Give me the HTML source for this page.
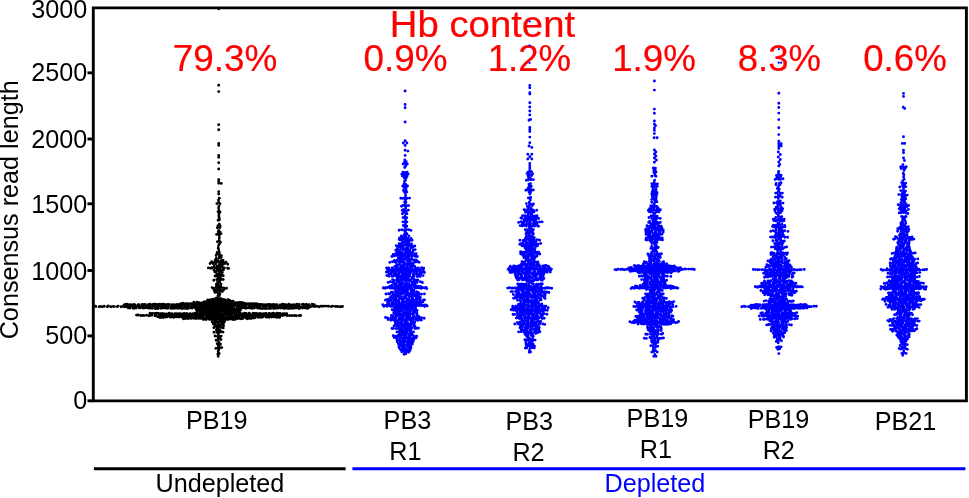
<!DOCTYPE html><html><head><meta charset="utf-8"><style>html,body{margin:0;padding:0;background:#fff;width:969px;height:498px;overflow:hidden}svg{display:block;will-change:transform}text{font-family:"Liberation Sans",sans-serif}</style></head><body>
<svg width="969" height="498" viewBox="0 0 969 498">
<path d="M218.7 8.8h0M218.7 85.2h0M218.7 91.6h0M218.7 124.8h0M218.7 129.8h0M218.7 143.5h0M218.7 145.2h0M218.7 155.5h0M218.7 157.3h0M218.7 162.7h0M218.7 169.0h0M218.7 179.6h0M218.7 181.4h0M218.7 183.2h0M221.3 183.4h0M218.7 191.6h0M218.7 194.0h0M219.3 198.3h0M218.5 200.0h0M218.7 202.4h0M216.9 203.6h0M220.0 203.6h0M219.0 205.9h0M218.6 208.0h0M218.9 210.5h0M218.1 211.8h0M220.0 211.9h0M219.1 213.9h0M218.8 215.7h0M219.2 217.8h0M218.1 220.2h0M219.4 219.8h0M219.3 224.3h0M218.0 225.6h0M220.1 225.7h0M217.3 227.8h0M220.0 227.6h0M218.8 230.4h0M218.3 232.0h0M220.0 231.9h0M216.6 234.4h0M218.5 234.3h0M221.0 233.6h0M219.3 235.7h0M219.3 238.1h0M219.3 240.3h0M217.5 241.8h0M220.4 242.2h0M219.3 244.1h0M218.5 245.6h0M218.2 247.9h0M218.7 249.7h0M217.2 252.4h0M219.3 252.1h0M216.9 253.9h0M219.3 253.8h0M216.1 255.5h0M219.4 256.0h0M221.4 255.8h0M216.1 258.4h0M219.0 257.9h0M221.1 257.5h0M215.1 260.1h0M216.1 259.5h0M218.0 260.4h0M221.5 260.5h0M223.1 260.5h0M211.6 261.6h0M214.2 262.4h0M215.6 262.5h0M217.5 261.5h0M219.3 261.7h0M221.3 262.2h0M223.3 262.5h0M226.0 262.3h0M210.1 263.5h0M213.0 263.6h0M215.0 263.7h0M215.9 263.6h0M219.2 264.4h0M220.8 264.0h0M223.0 264.0h0M224.8 263.5h0M227.7 264.3h0M214.2 266.2h0M217.1 266.3h0M219.4 266.2h0M220.2 266.2h0M222.2 266.2h0M208.4 267.9h0M210.8 268.3h0M211.8 267.7h0M214.6 268.3h0M217.0 268.3h0M218.4 267.6h0M220.2 268.2h0M223.1 268.0h0M224.4 267.9h0M227.6 268.3h0M228.6 268.4h0M213.9 270.1h0M216.9 270.5h0M218.7 269.7h0M221.1 270.1h0M223.5 269.8h0M214.8 271.8h0M216.0 272.2h0M219.3 271.7h0M220.2 271.6h0M222.3 272.5h0M217.3 274.5h0M218.9 273.9h0M221.4 274.3h0M215.1 276.0h0M216.2 275.7h0M218.5 275.6h0M220.7 275.7h0M223.2 275.8h0M218.0 277.8h0M220.5 277.9h0M213.8 280.2h0M216.7 279.6h0M219.4 279.8h0M220.8 279.8h0M223.2 279.5h0M217.6 281.8h0M219.7 281.9h0M216.4 284.3h0M218.0 284.0h0M221.0 284.2h0M216.4 286.0h0M219.0 286.2h0M220.4 285.9h0M212.1 287.6h0M213.5 288.5h0M215.8 287.6h0M217.4 288.3h0M219.5 287.5h0M221.3 287.5h0M223.7 288.0h0M226.5 288.3h0M214.1 290.4h0M215.3 290.2h0M217.6 289.6h0M220.2 289.9h0M221.7 290.4h0M224.0 289.6h0M215.0 292.4h0M217.2 292.0h0M219.6 291.6h0M222.4 291.6h0M218.3 294.1h0M219.9 293.9h0M217.9 296.1h0M219.4 295.6h0M215.9 298.3h0M218.1 298.4h0M220.5 298.4h0M207.8 299.9h0M210.1 300.0h0M211.7 299.8h0M215.2 299.6h0M215.9 299.8h0M218.0 300.1h0M221.4 300.5h0M223.1 299.8h0M224.8 300.1h0M227.8 299.6h0M229.5 300.1h0M208.9 302.2h0M210.7 302.0h0M212.7 301.6h0M215.1 301.9h0M217.3 302.4h0M219.2 302.3h0M220.4 301.7h0M222.9 301.8h0M225.4 302.1h0M227.1 301.8h0M228.6 302.0h0M202.6 303.5h0M205.3 304.3h0M207.5 304.4h0M208.9 304.4h0M211.3 303.6h0M213.5 303.9h0M215.5 304.2h0M216.9 304.0h0M219.3 303.7h0M221.9 303.8h0M224.2 304.3h0M225.4 304.3h0M227.8 303.7h0M229.8 303.7h0M232.3 303.6h0M234.3 304.0h0M209.6 305.9h0M213.0 305.9h0M214.4 306.4h0M216.3 306.3h0M218.4 305.6h0M220.6 306.0h0M223.0 306.1h0M225.6 305.5h0M226.5 306.3h0M205.4 308.5h0M206.7 308.5h0M208.6 308.4h0M211.8 308.1h0M213.2 308.3h0M215.9 308.0h0M218.1 308.5h0M219.8 307.8h0M221.3 307.9h0M224.0 307.6h0M225.9 307.7h0M227.9 308.4h0M230.2 308.0h0M232.0 308.5h0M210.8 310.1h0M211.8 310.1h0M214.4 310.5h0M216.3 309.6h0M218.3 309.8h0M220.6 309.6h0M223.1 310.2h0M224.8 309.8h0M227.2 309.9h0M206.9 311.6h0M209.6 312.1h0M211.4 311.9h0M212.7 311.9h0M215.2 311.9h0M218.3 311.8h0M220.1 312.3h0M221.3 311.8h0M224.6 312.4h0M225.4 312.2h0M227.6 312.2h0M230.3 312.3h0M211.9 314.4h0M214.7 313.5h0M216.1 314.3h0M218.1 313.6h0M220.7 313.5h0M222.4 314.4h0M225.7 313.9h0M215.1 315.8h0M216.0 315.5h0M218.6 316.3h0M221.4 316.0h0M223.2 315.6h0M205.9 318.2h0M207.9 317.9h0M210.5 317.6h0M212.1 317.5h0M214.8 317.9h0M217.3 317.9h0M218.6 317.8h0M220.7 317.8h0M223.1 317.9h0M225.7 318.0h0M226.9 318.2h0M229.5 318.1h0M230.8 318.2h0M213.1 319.8h0M215.0 320.3h0M216.4 319.5h0M219.2 320.0h0M221.4 320.3h0M222.7 320.2h0M224.6 319.6h0M212.2 322.1h0M214.8 322.4h0M216.6 322.0h0M218.6 321.9h0M221.3 321.9h0M223.5 322.5h0M224.7 321.5h0M213.3 324.1h0M215.3 324.2h0M218.3 324.0h0M220.3 324.4h0M221.2 324.5h0M223.5 323.8h0M215.0 325.6h0M217.1 326.3h0M218.3 326.3h0M220.3 326.4h0M223.5 325.9h0M213.8 327.7h0M216.7 327.5h0M218.2 328.3h0M220.8 327.6h0M223.2 327.9h0M216.4 330.0h0M218.4 330.0h0M220.1 330.4h0M214.0 332.2h0M216.9 332.3h0M219.0 332.3h0M221.3 331.7h0M223.0 332.1h0M218.4 334.2h0M215.1 336.0h0M217.6 336.4h0M219.1 336.4h0M221.2 336.1h0M218.3 338.0h0M219.6 338.0h0M216.1 340.3h0M218.1 340.5h0M221.0 339.5h0M219.2 342.4h0M217.2 343.7h0M219.0 343.9h0M220.5 344.2h0M218.3 346.0h0M219.3 345.7h0M215.9 348.4h0M217.6 348.3h0M219.4 348.3h0M221.8 347.6h0M218.7 350.1h0M218.2 351.8h0M217.8 354.2h0M219.2 353.5h0M218.2 356.3h0M95.4 306.1h0M96.0 306.6h0M99.3 306.8h0M100.2 306.4h0M102.3 306.8h0M104.3 306.2h0M107.3 306.7h0M108.2 306.0h0M110.9 306.7h0M113.3 306.4h0M114.2 306.6h0M117.1 306.6h0M118.1 306.1h0M121.1 306.7h0M123.3 306.5h0M125.0 306.7h0M126.3 306.6h0M128.7 306.1h0M130.4 306.6h0M132.5 306.4h0M134.8 306.2h0M136.2 306.2h0M138.9 306.6h0M140.9 306.7h0M142.2 306.0h0M144.7 306.4h0M146.3 306.5h0M148.1 306.2h0M150.0 306.2h0M152.9 306.0h0M154.8 306.2h0M156.3 306.3h0M158.4 306.6h0M160.6 306.4h0M163.2 306.2h0M165.2 306.4h0M166.5 306.7h0M168.1 306.7h0M171.0 306.8h0M173.3 306.1h0M174.1 306.6h0M176.2 306.2h0M178.7 306.6h0M180.9 306.8h0M182.0 306.1h0M184.8 306.6h0M186.0 306.7h0M188.2 306.5h0M190.9 306.7h0M192.0 306.0h0M194.1 306.5h0M196.0 306.3h0M198.5 306.5h0M200.8 306.4h0M203.3 306.3h0M205.4 306.5h0M206.7 306.6h0M208.3 306.4h0M210.9 306.2h0M213.1 306.3h0M214.4 306.5h0M217.3 306.5h0M218.4 306.2h0M221.0 306.5h0M223.4 306.2h0M224.2 306.3h0M226.8 306.2h0M229.2 306.4h0M230.9 306.7h0M232.3 306.4h0M234.5 306.1h0M237.2 306.3h0M239.3 306.2h0M241.0 306.7h0M242.8 306.5h0M244.5 306.6h0M246.0 306.8h0M249.1 306.5h0M251.4 306.1h0M253.3 306.1h0M254.4 306.6h0M256.1 306.3h0M258.4 306.1h0M260.3 306.8h0M263.3 306.6h0M264.9 306.6h0M266.6 306.1h0M269.4 306.6h0M271.2 306.5h0M272.5 306.3h0M274.9 306.3h0M277.3 306.0h0M278.7 306.5h0M280.5 306.6h0M283.0 306.2h0M284.9 306.2h0M286.6 306.7h0M289.3 306.6h0M290.2 306.5h0M292.6 306.1h0M295.0 306.3h0M296.8 306.4h0M298.7 306.4h0M300.1 306.7h0M303.1 306.4h0M304.3 306.2h0M307.0 306.0h0M309.0 306.5h0M310.6 306.8h0M313.2 306.3h0M314.7 306.6h0M316.9 306.3h0M319.1 306.7h0M320.8 306.1h0M322.4 306.2h0M324.2 306.1h0M326.4 306.1h0M328.6 306.3h0M331.1 306.6h0M332.7 306.1h0M335.4 306.4h0M337.0 306.5h0M338.9 306.6h0M340.7 306.7h0M342.4 306.5h0M124.1 304.9h0M125.1 304.4h0M127.1 304.2h0M129.4 304.8h0M131.6 304.7h0M134.1 304.5h0M135.2 304.9h0M138.3 304.7h0M139.1 304.8h0M142.2 304.5h0M143.7 304.6h0M145.2 304.5h0M148.1 304.7h0M149.9 304.3h0M152.3 304.6h0M153.7 304.2h0M155.4 304.2h0M157.7 304.5h0M159.7 304.3h0M162.2 304.3h0M163.8 304.2h0M166.0 304.7h0M167.8 304.4h0M169.2 304.5h0M172.0 304.7h0M174.0 304.6h0M176.4 304.6h0M177.3 304.4h0M179.9 304.2h0M181.9 304.7h0M183.6 304.5h0M185.1 304.3h0M187.6 304.8h0M189.4 304.3h0M192.4 304.2h0M194.2 304.4h0M196.2 304.5h0M198.0 304.3h0M200.1 305.0h0M201.9 304.8h0M203.3 304.7h0M205.5 304.7h0M207.3 304.2h0M209.9 304.4h0M211.5 304.3h0M214.0 304.2h0M215.5 304.7h0M218.0 304.5h0M220.3 304.2h0M222.0 304.6h0M223.9 304.4h0M225.1 304.4h0M227.7 304.6h0M229.3 304.9h0M231.4 304.5h0M233.9 304.6h0M235.7 304.8h0M238.3 304.5h0M239.6 304.4h0M241.7 304.9h0M244.4 304.3h0M245.5 304.4h0M247.2 304.3h0M249.5 304.9h0M251.6 304.6h0M253.8 304.4h0M255.6 304.4h0M257.9 304.3h0M259.7 304.4h0M261.5 304.5h0M263.5 304.8h0M265.7 304.6h0M268.1 304.5h0M269.3 304.4h0M271.2 304.7h0M273.3 304.4h0M275.5 304.6h0M277.1 304.8h0M280.1 305.0h0M282.4 304.3h0M283.9 304.4h0M285.6 304.6h0M287.9 304.8h0M289.0 304.3h0M291.2 304.9h0M293.6 304.6h0M295.9 304.8h0M297.0 304.3h0M299.2 304.4h0M302.3 304.4h0M303.2 304.3h0M305.9 304.5h0M307.0 304.6h0M309.2 304.8h0M312.3 304.3h0M314.3 304.8h0M128.2 307.9h0M130.1 308.0h0M133.2 308.2h0M134.7 308.0h0M136.3 308.1h0M139.2 307.8h0M140.1 307.9h0M142.9 308.0h0M144.6 307.9h0M146.6 307.8h0M149.0 308.2h0M151.2 308.0h0M152.3 308.3h0M155.1 308.5h0M156.4 308.4h0M158.0 308.5h0M160.8 308.3h0M162.2 307.9h0M164.2 308.0h0M166.8 308.3h0M168.3 308.1h0M171.1 308.4h0M173.1 308.3h0M174.8 308.2h0M177.4 308.3h0M179.0 308.0h0M180.9 308.2h0M182.4 308.5h0M184.2 308.2h0M186.3 308.4h0M188.0 308.5h0M190.7 308.1h0M192.5 308.1h0M195.4 308.1h0M197.3 308.1h0M198.6 308.2h0M200.4 308.3h0M202.4 308.1h0M204.4 308.0h0M207.1 308.2h0M208.1 308.3h0M210.8 308.3h0M212.3 308.4h0M214.7 308.2h0M216.9 308.3h0M219.3 307.9h0M220.5 307.8h0M222.8 308.3h0M224.3 308.4h0M226.4 307.9h0M229.1 308.1h0M230.4 308.6h0M232.0 307.8h0M234.4 308.6h0M237.1 308.3h0M239.0 308.0h0M240.9 307.9h0M242.6 307.9h0M245.4 308.3h0M246.8 308.0h0M249.1 307.9h0M250.2 307.8h0M252.0 308.4h0M254.4 308.0h0M257.4 308.1h0M258.6 307.9h0M260.1 308.4h0M262.2 308.6h0M264.6 308.4h0M266.5 308.5h0M269.1 308.6h0M270.5 308.4h0M272.1 307.9h0M274.0 308.5h0M276.3 308.3h0M278.5 308.0h0M280.9 308.0h0M282.0 307.9h0M284.4 308.5h0M286.3 308.1h0M288.2 308.6h0M290.3 308.3h0M292.5 308.4h0M294.7 308.1h0M296.4 307.9h0M298.9 308.6h0M300.0 308.1h0M302.6 308.0h0M305.1 307.9h0M307.3 308.4h0M308.6 307.8h0M181.1 303.7h0M182.9 303.2h0M184.0 303.6h0M186.5 303.5h0M189.1 303.7h0M191.4 303.6h0M193.1 303.3h0M194.2 303.8h0M196.3 303.6h0M198.6 303.5h0M201.3 303.8h0M202.1 303.3h0M204.7 303.7h0M207.0 303.3h0M208.1 303.5h0M210.7 303.6h0M212.6 303.4h0M214.7 303.7h0M217.0 304.0h0M218.4 303.7h0M220.6 303.8h0M223.2 303.8h0M224.4 303.9h0M226.2 303.7h0M228.9 303.3h0M230.7 303.4h0M232.8 303.9h0M235.4 303.9h0M236.5 303.5h0M238.7 303.3h0M241.2 303.9h0M243.0 303.8h0M244.7 303.3h0M247.3 303.8h0M248.9 303.7h0M250.8 303.8h0M252.7 303.8h0M254.2 303.8h0M256.2 303.8h0M194.0 302.2h0M197.0 302.2h0M198.8 302.8h0M201.2 302.9h0M202.1 302.7h0M204.2 302.2h0M206.2 302.4h0M208.8 302.5h0M210.4 302.8h0M212.7 302.4h0M214.6 302.6h0M216.6 302.6h0M219.1 302.8h0M220.0 302.9h0M222.7 302.9h0M224.8 302.6h0M227.0 302.7h0M229.2 302.2h0M230.9 303.0h0M232.1 302.6h0M235.0 302.7h0M237.1 302.7h0M239.2 302.5h0M240.1 302.5h0M242.2 302.4h0M204.4 301.6h0M207.0 301.4h0M208.5 301.8h0M211.1 301.6h0M212.4 301.4h0M215.2 301.4h0M216.1 301.9h0M219.2 301.9h0M220.9 301.3h0M222.6 301.6h0M224.6 301.6h0M227.3 301.6h0M228.0 301.4h0M230.6 301.3h0M233.0 301.1h0M211.7 300.4h0M214.3 300.7h0M216.1 300.2h0M218.0 300.2h0M220.2 300.2h0M222.2 300.5h0M223.5 300.1h0M225.0 300.0h0M213.1 299.1h0M215.9 299.2h0M217.7 299.6h0M219.1 299.4h0M221.1 298.9h0M223.3 299.5h0M136.5 315.1h0M138.0 315.0h0M140.6 315.5h0M142.6 315.4h0M144.0 315.6h0M146.6 315.2h0M149.0 315.7h0M150.6 315.0h0M152.0 315.3h0M155.1 315.8h0M156.0 315.3h0M159.2 315.3h0M160.4 315.6h0M162.4 315.4h0M164.9 315.2h0M166.1 315.4h0M168.3 315.6h0M170.6 315.6h0M173.4 315.0h0M174.5 315.2h0M176.2 315.5h0M178.2 315.2h0M180.5 315.1h0M182.3 315.4h0M184.9 315.3h0M187.1 315.1h0M188.9 315.6h0M191.2 315.5h0M192.4 315.4h0M195.2 315.1h0M197.1 315.8h0M198.6 315.6h0M200.8 315.1h0M202.6 315.4h0M204.3 315.1h0M206.9 315.7h0M208.2 315.7h0M210.8 315.1h0M212.0 315.8h0M214.6 315.8h0M217.1 315.3h0M218.8 315.7h0M221.2 315.3h0M223.1 315.6h0M224.1 315.7h0M226.9 315.1h0M229.4 315.1h0M230.8 315.1h0M232.1 315.7h0M235.2 315.2h0M237.0 315.3h0M238.7 315.7h0M240.7 315.3h0M242.0 315.6h0M244.2 315.1h0M246.9 315.3h0M248.9 315.4h0M251.0 315.2h0M252.2 315.7h0M254.7 315.1h0M256.5 315.7h0M258.3 315.3h0M260.4 315.3h0M262.0 315.1h0M264.4 315.5h0M267.0 315.1h0M268.2 315.6h0M270.4 315.1h0M272.1 315.4h0M275.2 315.0h0M276.1 315.0h0M278.2 315.2h0M280.7 315.6h0M282.4 315.5h0M284.4 315.1h0M286.9 315.6h0M289.3 315.6h0M291.1 315.6h0M292.4 315.6h0M294.7 315.5h0M296.3 315.8h0M299.0 315.6h0M300.6 315.5h0M150.0 313.3h0M152.4 313.4h0M154.8 313.5h0M156.7 313.3h0M158.4 313.4h0M160.5 313.6h0M162.5 313.5h0M164.7 313.9h0M166.8 313.9h0M169.2 313.3h0M170.2 313.8h0M172.1 313.8h0M175.0 313.7h0M176.8 313.8h0M179.0 313.8h0M180.3 313.6h0M182.6 313.9h0M184.1 313.4h0M186.6 313.4h0M189.2 313.9h0M190.2 313.7h0M192.9 313.7h0M195.2 313.2h0M196.6 313.7h0M198.2 313.7h0M200.0 313.8h0M202.6 313.5h0M204.3 313.8h0M206.7 313.3h0M208.5 313.3h0M211.0 313.8h0M213.1 313.7h0M214.5 313.6h0M217.2 313.3h0M219.3 314.0h0M220.4 313.7h0M223.4 313.9h0M224.7 313.7h0M226.6 313.8h0M228.7 313.3h0M230.9 313.6h0M232.0 313.7h0M234.5 313.6h0M236.1 313.8h0M239.1 313.2h0M240.3 313.2h0M243.1 313.8h0M244.9 313.2h0M246.3 313.5h0M249.2 313.2h0M250.3 313.9h0M253.2 313.3h0M254.8 313.5h0M256.3 313.4h0M258.4 313.7h0M260.5 313.5h0M263.3 313.6h0M264.9 313.8h0M266.2 313.4h0M269.1 313.4h0M271.3 313.8h0M273.2 313.3h0M274.4 313.7h0M277.0 313.2h0M278.9 313.5h0M280.2 313.4h0M283.0 313.7h0M284.9 313.7h0M286.8 313.6h0M157.8 316.8h0M160.0 317.5h0M161.1 317.4h0M163.4 317.5h0M165.9 317.1h0M167.1 316.9h0M170.1 317.0h0M172.0 316.9h0M173.8 317.4h0M176.2 316.9h0M178.2 316.8h0M179.5 316.9h0M181.9 317.1h0M183.9 317.1h0M185.9 317.4h0M187.7 316.8h0M189.3 317.2h0M191.8 317.6h0M193.1 317.5h0M195.1 317.0h0M198.3 317.3h0M199.1 316.9h0M201.8 316.9h0M203.2 317.1h0M206.3 317.3h0M207.2 317.0h0M209.7 316.9h0M211.3 317.6h0M213.7 317.4h0M216.0 317.5h0M217.1 317.2h0M220.2 317.3h0M221.3 317.2h0M224.1 316.8h0M225.4 317.4h0M227.4 317.2h0M229.7 316.9h0M231.8 317.0h0M233.7 317.0h0M235.6 317.3h0M237.9 316.9h0M239.1 317.3h0M242.2 317.0h0M243.0 317.0h0M245.1 317.0h0M247.3 316.9h0M249.6 317.3h0M252.0 317.6h0M253.4 317.3h0M255.4 317.6h0M258.4 317.4h0M259.9 316.9h0M261.2 317.4h0M263.1 316.9h0M266.2 317.1h0M267.0 317.1h0M269.2 317.2h0M271.5 317.0h0M273.7 316.9h0M276.3 317.2h0M278.4 317.3h0M279.7 317.3h0M183.5 318.7h0M185.7 318.5h0M188.0 318.5h0M189.7 318.1h0M191.3 318.4h0M194.0 318.2h0M195.9 318.5h0M198.1 318.2h0M200.0 318.4h0M201.3 318.2h0M204.3 318.6h0M205.0 318.7h0M208.3 318.2h0M210.2 318.4h0M211.1 318.3h0M213.7 318.6h0M215.3 318.1h0M217.3 318.1h0M220.0 318.7h0M221.8 318.4h0M223.2 318.2h0M225.7 318.7h0M228.4 318.3h0M229.5 318.5h0M232.2 318.2h0M233.3 318.1h0M236.4 318.2h0M237.4 318.8h0M240.0 318.6h0M241.5 318.8h0M243.0 318.4h0M246.4 318.2h0M247.5 318.7h0M249.8 318.4h0M251.3 318.4h0M253.8 318.1h0M203.3 319.4h0M204.0 319.2h0M206.2 319.5h0M209.2 319.3h0M211.0 319.6h0M212.9 319.6h0M214.9 319.6h0M216.6 319.4h0M218.9 319.2h0M220.1 319.2h0M222.7 319.4h0M225.0 319.8h0M227.2 319.4h0M228.5 319.4h0M230.9 319.1h0M233.0 319.6h0M234.9 319.6h0M196.4 309.9h0M198.8 310.0h0M201.2 310.0h0M202.2 309.7h0M204.0 309.8h0M206.6 310.0h0M208.4 310.2h0M210.6 310.1h0M213.2 310.1h0M215.3 309.9h0M216.9 309.7h0M218.9 310.2h0M221.2 309.6h0M222.8 310.0h0M225.0 310.4h0M227.1 309.7h0M228.5 309.6h0M231.0 309.9h0M232.8 310.1h0M235.1 310.1h0M236.8 310.1h0M238.3 310.3h0M240.4 310.3h0M197.2 311.6h0M200.0 311.6h0M202.0 312.0h0M203.5 311.7h0M205.7 312.1h0M207.9 312.0h0M209.1 311.9h0M212.2 311.7h0M213.9 312.0h0M215.7 312.2h0M218.0 311.5h0M219.7 311.5h0M221.4 311.5h0M223.8 311.5h0M225.9 312.2h0M227.4 312.1h0M229.2 311.4h0M232.0 311.5h0M233.9 312.2h0M235.1 312.2h0M237.2 312.1h0M239.4 312.0h0" stroke="#000" stroke-width="2.9" stroke-linecap="round" fill="none"/>
<path d="M405.1 91.0h0M405.1 104.5h0M405.1 107.7h0M405.1 122.0h0M405.1 140.7h0M403.3 143.0h0M406.9 143.0h0M405.1 145.4h0M405.1 150.2h0M407.9 151.1h0M405.1 155.4h0M404.8 160.0h0M404.6 161.9h0M406.2 161.6h0M403.1 164.0h0M405.7 163.9h0M407.3 164.0h0M405.7 166.1h0M404.7 167.5h0M402.9 172.3h0M405.3 172.4h0M407.2 172.2h0M401.8 174.2h0M403.8 173.7h0M405.8 174.1h0M408.2 174.1h0M402.5 176.1h0M404.9 175.7h0M407.0 176.3h0M404.3 177.9h0M406.3 177.7h0M405.5 180.3h0M404.5 181.5h0M404.2 184.0h0M405.8 184.4h0M402.8 185.9h0M405.1 185.8h0M407.5 186.0h0M403.9 187.5h0M406.2 187.6h0M403.4 190.4h0M406.0 189.8h0M404.5 192.0h0M406.8 191.9h0M405.2 193.5h0M405.6 195.5h0M400.8 198.3h0M402.8 198.4h0M404.8 197.7h0M407.3 198.3h0M409.7 198.1h0M405.4 200.0h0M404.6 201.9h0M405.9 202.0h0M405.3 204.0h0M401.5 206.2h0M403.3 205.5h0M405.4 205.9h0M406.5 205.7h0M408.7 205.6h0M405.7 207.9h0M402.2 210.4h0M403.4 209.7h0M405.6 210.4h0M408.4 210.1h0M403.8 212.2h0M406.2 211.6h0M402.4 213.7h0M405.8 213.8h0M406.9 213.8h0M404.8 216.4h0M403.0 217.6h0M405.0 218.3h0M406.7 217.8h0M405.4 219.8h0M402.9 221.9h0M405.1 221.9h0M406.9 221.9h0M405.4 224.0h0M403.3 225.5h0M405.0 226.0h0M406.8 226.3h0M405.0 227.5h0M399.1 230.2h0M401.8 229.7h0M404.2 230.4h0M406.6 229.6h0M408.9 229.8h0M411.0 230.4h0M405.4 231.8h0M404.6 233.9h0M406.8 233.7h0M401.4 235.9h0M404.0 236.0h0M405.8 236.0h0M408.9 236.0h0M399.6 237.9h0M402.1 237.7h0M404.5 238.2h0M406.1 238.4h0M408.2 238.2h0M411.1 238.4h0M399.2 239.6h0M400.3 240.0h0M402.6 240.3h0M405.2 239.8h0M407.1 240.2h0M409.7 240.5h0M412.1 240.3h0M402.5 242.1h0M404.2 242.1h0M406.5 241.8h0M408.4 242.3h0M399.1 243.6h0M401.1 243.8h0M402.8 244.5h0M405.8 244.3h0M407.1 243.9h0M410.0 243.9h0M411.5 243.9h0M396.3 245.7h0M398.3 246.2h0M400.1 245.7h0M402.5 246.2h0M403.7 245.7h0M406.4 245.6h0M408.4 245.9h0M410.9 246.3h0M412.2 246.1h0M414.8 246.0h0M397.4 248.5h0M400.1 247.5h0M401.6 247.9h0M403.3 248.1h0M406.3 248.3h0M407.7 248.3h0M410.7 248.1h0M412.8 247.6h0M395.8 250.2h0M397.6 249.6h0M399.8 250.2h0M402.7 249.9h0M404.0 249.5h0M405.9 249.9h0M408.7 250.1h0M409.7 250.2h0M413.1 250.3h0M415.2 249.6h0M396.8 251.7h0M398.3 252.2h0M400.5 252.4h0M402.4 252.4h0M405.5 252.2h0M407.3 252.2h0M409.3 252.4h0M410.8 252.4h0M413.0 252.3h0M393.2 254.4h0M395.7 253.7h0M398.2 253.6h0M400.2 253.9h0M401.6 254.1h0M404.7 253.7h0M405.8 253.6h0M407.8 254.0h0M409.8 254.0h0M412.0 254.2h0M415.2 254.0h0M416.1 253.7h0M391.9 256.5h0M394.3 256.0h0M396.8 255.6h0M399.3 256.0h0M401.6 256.3h0M403.1 255.7h0M405.0 255.9h0M407.1 256.1h0M409.3 255.9h0M411.9 256.0h0M413.8 255.6h0M415.2 256.4h0M417.3 256.5h0M398.2 258.1h0M400.5 257.7h0M403.0 258.4h0M405.3 258.3h0M406.7 258.3h0M408.7 258.3h0M411.5 258.5h0M394.5 260.4h0M397.1 260.3h0M398.4 259.8h0M400.2 260.3h0M402.5 259.9h0M405.0 259.5h0M407.6 259.7h0M409.9 260.0h0M412.1 259.5h0M414.2 259.9h0M416.3 259.9h0M389.8 262.4h0M392.5 261.7h0M395.2 262.0h0M396.0 261.7h0M398.8 261.8h0M400.4 262.1h0M402.5 261.8h0M404.5 262.4h0M407.5 261.8h0M409.5 262.0h0M410.7 262.4h0M413.6 262.4h0M415.9 261.9h0M418.0 261.7h0M419.1 262.2h0M396.8 264.4h0M399.5 264.3h0M400.3 264.3h0M403.4 264.3h0M405.5 264.3h0M407.7 263.5h0M409.0 264.2h0M411.7 264.3h0M413.2 264.1h0M395.0 266.4h0M397.5 265.9h0M400.6 266.0h0M402.6 266.3h0M403.6 266.4h0M406.8 266.5h0M407.5 265.8h0M410.3 266.4h0M412.8 265.7h0M414.8 266.4h0M386.6 268.0h0M388.8 267.9h0M392.0 267.9h0M392.9 267.9h0M396.4 267.6h0M397.3 268.1h0M399.9 268.2h0M401.3 267.5h0M403.4 267.6h0M405.8 268.0h0M408.0 268.2h0M410.9 267.8h0M412.0 267.8h0M415.1 268.0h0M417.1 268.4h0M418.4 267.9h0M421.6 267.7h0M423.7 268.1h0M392.5 269.6h0M394.9 269.8h0M397.2 270.0h0M398.3 269.5h0M401.5 269.6h0M403.3 270.1h0M405.0 269.7h0M407.5 270.3h0M409.0 269.9h0M411.2 269.6h0M412.8 270.4h0M414.9 270.5h0M417.1 269.6h0M386.4 272.1h0M388.1 271.8h0M390.8 271.6h0M392.0 272.3h0M394.4 271.8h0M396.2 271.7h0M398.8 272.1h0M400.4 272.0h0M402.8 272.3h0M405.1 271.7h0M407.6 271.7h0M409.2 272.3h0M411.0 272.0h0M413.8 271.6h0M415.4 271.6h0M417.2 271.9h0M419.9 271.7h0M422.6 272.3h0M424.5 272.5h0M388.8 273.9h0M391.2 273.9h0M394.1 274.2h0M395.4 273.6h0M398.0 274.2h0M399.2 274.2h0M402.3 273.9h0M404.0 273.9h0M406.0 273.9h0M408.4 273.9h0M409.7 273.9h0M413.0 274.3h0M414.4 274.0h0M417.0 274.3h0M418.8 274.4h0M420.9 273.7h0M386.8 275.6h0M389.0 276.2h0M391.9 276.3h0M393.2 276.3h0M395.7 275.8h0M397.8 275.6h0M400.3 276.2h0M402.6 276.1h0M404.2 275.7h0M406.3 275.6h0M408.6 275.8h0M409.7 275.8h0M413.0 276.5h0M414.2 276.0h0M417.2 276.5h0M418.2 276.2h0M420.3 276.4h0M423.1 275.6h0M397.2 278.0h0M399.2 277.6h0M401.2 278.2h0M403.2 277.9h0M405.3 278.2h0M406.6 278.0h0M408.6 277.8h0M411.9 277.6h0M413.3 278.0h0M392.6 279.6h0M394.4 280.4h0M396.9 279.9h0M398.2 279.9h0M400.7 280.3h0M402.7 279.7h0M405.2 280.3h0M407.2 280.0h0M408.9 280.1h0M411.2 279.8h0M414.2 279.8h0M415.8 280.1h0M417.8 280.0h0M388.1 282.4h0M390.4 281.8h0M392.7 282.4h0M394.1 282.3h0M397.2 281.5h0M398.6 281.7h0M400.3 282.5h0M402.9 282.5h0M405.6 281.5h0M406.5 282.1h0M409.3 281.5h0M412.0 281.9h0M414.2 282.0h0M415.2 281.7h0M417.2 282.3h0M420.4 281.8h0M422.4 282.5h0M394.1 284.3h0M396.4 283.7h0M399.4 284.0h0M400.9 283.9h0M403.2 283.6h0M405.8 284.2h0M406.7 283.7h0M409.1 284.2h0M412.0 284.4h0M412.9 284.1h0M415.2 284.3h0M389.8 286.3h0M391.9 285.5h0M395.3 286.1h0M396.7 286.2h0M398.4 285.9h0M400.8 285.7h0M402.6 286.2h0M405.3 285.9h0M407.8 286.4h0M408.7 285.6h0M410.7 286.0h0M413.7 285.9h0M415.3 285.8h0M417.8 286.1h0M420.4 286.4h0M383.3 288.0h0M385.3 288.3h0M386.9 287.6h0M390.0 288.0h0M391.6 288.0h0M393.0 288.2h0M395.3 287.8h0M398.2 288.1h0M400.5 287.8h0M402.3 287.5h0M403.8 288.1h0M405.7 288.3h0M407.9 287.7h0M409.6 288.0h0M411.8 288.1h0M415.0 287.6h0M416.7 287.7h0M418.6 287.9h0M421.1 288.4h0M423.0 287.6h0M425.1 287.9h0M426.8 288.5h0M395.4 290.2h0M397.9 290.4h0M400.0 290.1h0M402.4 290.1h0M404.1 290.5h0M405.6 289.7h0M407.6 290.2h0M410.5 289.5h0M412.7 289.9h0M414.0 290.0h0M391.3 292.2h0M393.0 292.2h0M395.9 292.2h0M397.9 292.4h0M399.3 292.3h0M401.8 292.2h0M404.3 292.2h0M405.9 291.5h0M407.6 292.2h0M411.0 292.1h0M411.8 292.0h0M413.9 292.1h0M416.7 291.8h0M418.3 292.4h0M386.0 294.0h0M388.6 293.8h0M389.8 294.1h0M393.0 294.2h0M395.3 294.4h0M397.1 294.1h0M398.6 294.0h0M400.4 293.9h0M402.7 293.8h0M405.7 294.2h0M407.6 294.3h0M409.4 294.0h0M411.2 294.5h0M412.8 294.3h0M415.6 294.2h0M417.4 294.2h0M419.3 294.0h0M421.5 294.3h0M424.4 293.9h0M391.5 296.5h0M394.0 295.8h0M396.1 295.5h0M398.0 296.2h0M399.7 296.1h0M401.3 296.4h0M404.4 296.5h0M406.1 295.7h0M408.9 295.7h0M410.0 296.5h0M412.4 296.1h0M414.9 295.7h0M416.7 295.9h0M418.8 296.1h0M389.9 297.8h0M392.5 298.2h0M394.9 298.4h0M396.1 297.8h0M399.3 297.9h0M400.5 298.2h0M403.7 297.8h0M405.6 298.1h0M406.5 298.4h0M409.0 298.5h0M412.0 297.7h0M412.8 298.3h0M416.3 298.0h0M418.0 298.2h0M420.3 297.5h0M385.4 300.1h0M387.2 299.5h0M388.8 299.7h0M390.9 300.5h0M394.1 300.1h0M395.5 299.8h0M397.1 300.4h0M399.2 299.5h0M402.2 299.8h0M403.4 300.1h0M406.8 299.6h0M408.9 300.5h0M409.8 300.2h0M412.4 299.7h0M414.5 300.3h0M416.6 300.4h0M419.3 299.6h0M420.2 299.8h0M423.4 299.9h0M424.5 299.9h0M387.5 302.4h0M388.8 302.0h0M391.8 301.7h0M392.8 302.0h0M395.8 301.6h0M398.3 301.6h0M399.2 302.2h0M402.1 302.3h0M404.3 301.8h0M406.7 301.6h0M408.7 301.8h0M409.9 302.1h0M411.9 301.7h0M414.2 302.1h0M416.9 302.3h0M419.4 301.7h0M421.1 301.6h0M422.8 301.9h0M388.7 303.8h0M391.7 304.1h0M393.8 303.7h0M395.9 303.6h0M397.7 303.9h0M399.3 304.5h0M401.6 304.2h0M403.5 304.3h0M406.4 303.8h0M407.8 304.5h0M410.0 303.9h0M412.5 303.8h0M413.9 304.2h0M416.3 304.0h0M418.3 303.8h0M420.8 303.9h0M383.8 306.4h0M385.4 305.5h0M387.0 306.2h0M388.9 305.8h0M391.0 306.4h0M393.2 306.4h0M396.0 306.1h0M398.2 306.0h0M399.6 306.4h0M401.5 305.8h0M404.2 306.4h0M406.8 306.0h0M408.3 305.9h0M410.9 306.0h0M412.1 305.7h0M413.8 305.7h0M416.1 306.1h0M418.4 305.5h0M420.8 305.7h0M422.6 305.5h0M424.7 306.5h0M427.2 305.9h0M394.7 307.9h0M396.7 308.1h0M398.9 308.5h0M401.5 308.1h0M403.3 307.7h0M405.5 307.7h0M406.7 307.9h0M408.8 308.0h0M411.4 308.0h0M413.0 308.5h0M415.6 307.9h0M392.2 309.7h0M394.4 310.3h0M396.6 310.3h0M399.1 310.2h0M400.3 310.4h0M402.6 310.3h0M405.3 309.8h0M407.1 309.9h0M409.8 309.9h0M411.1 310.3h0M413.9 310.1h0M415.7 310.1h0M417.1 310.4h0M393.8 312.4h0M395.2 312.2h0M397.6 311.9h0M399.5 311.9h0M402.7 311.7h0M404.6 312.4h0M406.9 312.4h0M407.6 312.1h0M409.8 311.9h0M413.1 312.3h0M414.6 312.1h0M416.6 312.2h0M393.8 313.6h0M395.5 313.9h0M397.9 314.3h0M399.8 313.7h0M402.0 313.9h0M403.6 313.8h0M405.9 314.2h0M408.1 314.2h0M410.8 314.0h0M412.9 313.8h0M414.1 313.6h0M417.0 313.9h0M391.4 315.5h0M393.4 316.2h0M396.4 316.3h0M397.7 315.6h0M399.9 315.9h0M401.5 316.4h0M404.0 315.7h0M406.7 316.0h0M408.3 316.3h0M410.0 316.3h0M413.2 316.4h0M414.3 316.4h0M417.1 315.5h0M418.8 316.4h0M385.5 317.5h0M387.6 318.0h0M390.6 318.2h0M392.1 318.5h0M394.4 317.8h0M396.0 317.9h0M399.2 318.2h0M401.2 318.3h0M402.9 317.7h0M405.7 318.2h0M407.7 318.3h0M409.1 318.2h0M411.7 318.5h0M413.4 318.1h0M416.3 318.1h0M417.8 317.5h0M419.3 318.0h0M421.5 317.8h0M424.2 318.2h0M388.0 319.5h0M390.8 320.2h0M392.4 319.5h0M394.2 320.4h0M396.5 320.4h0M398.9 319.7h0M401.5 320.3h0M403.7 320.1h0M404.8 320.4h0M407.4 319.7h0M409.9 319.9h0M411.3 320.1h0M413.2 320.1h0M415.9 319.8h0M417.6 320.4h0M419.9 319.7h0M421.4 320.0h0M395.5 322.1h0M398.2 322.3h0M400.4 322.4h0M401.8 322.4h0M404.8 321.9h0M405.5 321.6h0M407.6 322.4h0M411.0 322.3h0M412.5 322.0h0M414.7 322.5h0M395.3 323.5h0M398.0 323.5h0M400.1 324.3h0M402.6 324.4h0M404.7 324.3h0M405.7 323.6h0M408.1 324.1h0M409.7 324.4h0M412.4 324.0h0M414.1 323.9h0M394.0 326.0h0M396.6 325.7h0M398.6 326.4h0M401.6 326.0h0M403.4 325.6h0M405.5 326.0h0M407.8 325.8h0M409.9 326.4h0M411.0 326.0h0M414.1 326.5h0M415.0 326.1h0M392.0 328.5h0M393.3 328.5h0M396.1 328.5h0M398.2 328.4h0M399.5 328.0h0M401.9 328.2h0M404.4 327.9h0M406.6 328.2h0M408.1 327.6h0M409.8 328.1h0M411.8 328.0h0M414.9 328.5h0M417.1 328.2h0M418.5 328.1h0M399.6 329.8h0M401.4 330.3h0M403.7 330.4h0M405.6 330.5h0M408.2 329.7h0M410.9 330.1h0M397.0 331.9h0M399.4 332.0h0M400.2 331.7h0M403.0 332.2h0M405.2 332.1h0M407.0 332.3h0M409.9 331.5h0M411.3 332.4h0M413.5 332.0h0M399.0 334.5h0M400.8 333.8h0M403.4 334.4h0M405.0 333.9h0M407.1 333.5h0M409.2 334.0h0M411.6 334.3h0M393.3 335.8h0M395.2 336.2h0M397.3 335.9h0M400.0 336.3h0M402.5 335.5h0M404.7 336.0h0M406.0 335.7h0M408.8 336.3h0M410.8 335.6h0M413.1 335.5h0M414.1 336.3h0M416.7 336.3h0M394.1 337.6h0M396.3 337.8h0M397.5 337.7h0M400.3 337.8h0M402.6 338.1h0M404.8 338.3h0M406.0 338.0h0M408.3 337.9h0M410.4 338.3h0M412.3 338.5h0M415.0 338.0h0M416.0 337.9h0M396.9 340.1h0M399.1 340.1h0M400.3 339.9h0M403.1 340.4h0M404.6 340.5h0M407.8 339.9h0M410.0 340.5h0M411.5 339.7h0M413.6 339.8h0M397.3 341.9h0M400.2 341.8h0M402.0 341.8h0M403.6 341.6h0M405.8 341.8h0M408.2 342.0h0M410.9 342.3h0M413.2 341.5h0M398.4 343.8h0M399.5 343.7h0M401.8 344.1h0M403.6 343.8h0M406.8 344.1h0M408.7 344.1h0M409.6 343.7h0M412.4 344.1h0M398.9 346.5h0M401.2 345.8h0M403.5 345.5h0M404.9 345.6h0M407.3 346.3h0M408.8 346.2h0M410.8 346.2h0M399.3 347.9h0M402.3 348.3h0M404.1 348.1h0M405.5 348.5h0M408.6 348.4h0M410.9 348.0h0M400.4 349.6h0M402.2 350.1h0M403.7 350.4h0M406.0 349.7h0M408.4 350.5h0M410.1 350.4h0M401.7 351.8h0M404.5 352.1h0M406.2 352.0h0M408.8 352.3h0M404.0 354.2h0M405.8 353.7h0M387.5 269.7h0M389.6 270.2h0M391.1 270.2h0M393.4 270.2h0M395.7 269.9h0M397.6 270.2h0M399.2 270.0h0M401.7 270.0h0M402.6 269.8h0M404.4 270.0h0M407.8 270.2h0M409.1 269.8h0M410.8 270.3h0M412.5 269.8h0M415.6 270.3h0M416.5 270.4h0M419.4 269.8h0M420.7 270.0h0M423.4 269.9h0M383.5 287.7h0M385.5 287.8h0M387.6 287.4h0M390.2 287.5h0M392.5 287.7h0M393.9 287.4h0M395.9 287.9h0M398.6 287.9h0M399.7 287.8h0M402.7 287.9h0M404.8 287.3h0M406.7 287.9h0M408.4 287.4h0M410.1 287.3h0M411.8 288.0h0M414.6 287.5h0M415.7 287.5h0M417.9 287.2h0M420.0 287.5h0M422.4 287.7h0M424.7 288.0h0M426.0 287.5h0M382.8 304.8h0M385.6 305.4h0M387.0 305.0h0M389.8 304.8h0M390.5 305.2h0M393.0 304.6h0M395.8 304.8h0M396.7 304.9h0M399.5 304.8h0M400.9 305.1h0M403.0 305.1h0M404.5 304.6h0M407.5 305.3h0M409.3 305.1h0M411.4 304.6h0M413.0 305.3h0M414.5 305.4h0M417.7 304.7h0M418.7 304.8h0M421.3 305.3h0M423.5 305.3h0M425.3 305.0h0M426.6 305.4h0" stroke="#0000ff" stroke-width="2.9" stroke-linecap="round" fill="none"/>
<path d="M529.8 85.5h0M529.8 87.7h0M529.8 92.6h0M529.8 94.0h0M529.8 102.8h0M529.8 107.0h0M529.8 111.0h0M529.8 114.9h0M529.0 120.2h0M530.6 119.4h0M529.8 127.5h0M529.8 129.5h0M529.8 131.5h0M529.8 137.1h0M529.8 142.7h0M529.0 146.0h0M531.8 147.5h0M527.8 154.3h0M531.8 154.3h0M529.8 156.7h0M527.8 159.0h0M531.8 159.0h0M529.8 163.5h0M529.8 165.8h0M529.8 168.0h0M529.8 170.2h0M527.9 172.1h0M529.4 172.0h0M531.5 171.8h0M527.1 173.6h0M529.4 174.1h0M532.6 173.7h0M528.0 175.7h0M529.3 176.1h0M531.8 175.5h0M528.5 177.8h0M530.3 178.2h0M526.4 180.3h0M528.3 180.1h0M531.1 179.7h0M533.4 179.6h0M529.0 184.1h0M530.5 183.7h0M529.0 186.4h0M531.3 186.2h0M528.3 188.0h0M530.2 188.2h0M525.9 190.3h0M527.3 189.8h0M529.8 190.2h0M531.6 190.1h0M533.3 190.0h0M529.1 192.3h0M530.6 192.0h0M530.0 194.1h0M528.4 197.9h0M530.7 197.5h0M530.3 199.9h0M529.3 202.2h0M526.4 203.6h0M529.4 204.0h0M530.6 204.1h0M533.4 204.0h0M527.3 206.4h0M529.5 206.3h0M532.3 205.6h0M528.4 207.9h0M531.3 208.5h0M524.1 209.7h0M526.3 210.0h0M527.6 210.5h0M530.3 209.6h0M531.7 210.1h0M533.4 210.2h0M536.7 210.2h0M525.5 212.2h0M528.1 212.1h0M529.6 212.2h0M532.2 212.5h0M534.1 211.7h0M528.2 213.9h0M530.5 213.7h0M531.8 213.9h0M522.6 215.8h0M524.9 215.7h0M526.3 216.1h0M528.6 216.4h0M531.1 216.0h0M533.5 216.2h0M535.4 216.0h0M537.0 215.8h0M521.0 217.9h0M521.7 218.3h0M524.8 218.5h0M526.9 218.0h0M528.7 217.8h0M530.4 217.8h0M533.1 217.6h0M535.0 217.9h0M537.3 217.7h0M538.6 218.5h0M524.2 219.8h0M526.3 220.0h0M527.7 219.9h0M529.1 219.7h0M531.8 219.8h0M533.4 220.3h0M535.9 219.8h0M518.6 222.4h0M521.0 221.7h0M522.9 222.3h0M524.0 221.9h0M526.6 221.6h0M529.5 222.5h0M530.3 222.1h0M533.6 222.4h0M534.9 221.9h0M536.8 222.3h0M539.6 221.9h0M542.1 221.9h0M522.3 223.8h0M524.7 224.5h0M527.1 223.7h0M529.5 224.0h0M530.5 224.1h0M533.3 224.1h0M535.2 223.7h0M537.1 224.0h0M520.1 225.6h0M522.2 226.1h0M524.2 225.5h0M526.5 226.1h0M529.3 226.0h0M530.6 225.7h0M532.7 226.1h0M534.7 226.0h0M537.5 225.9h0M538.5 226.3h0M529.3 227.6h0M530.6 227.7h0M525.3 229.7h0M527.4 229.6h0M530.0 230.3h0M532.1 229.5h0M533.3 229.8h0M526.5 232.4h0M528.0 231.8h0M530.7 232.2h0M532.6 232.0h0M526.1 233.7h0M527.2 233.5h0M529.2 234.3h0M532.4 233.6h0M533.4 233.8h0M526.4 236.3h0M529.0 236.0h0M530.9 236.4h0M532.5 235.7h0M525.6 238.0h0M527.5 238.4h0M530.2 237.9h0M531.7 237.6h0M534.3 237.8h0M519.9 240.2h0M523.1 240.5h0M524.3 240.2h0M526.4 239.9h0M529.2 240.0h0M530.6 239.9h0M532.8 240.0h0M534.3 240.3h0M537.1 239.6h0M539.6 240.2h0M523.4 242.0h0M526.3 242.0h0M527.4 242.4h0M530.0 241.9h0M532.3 242.2h0M533.6 241.6h0M536.0 241.8h0M519.8 244.2h0M521.6 243.5h0M522.8 244.0h0M525.3 244.4h0M527.0 243.5h0M529.7 244.1h0M532.0 244.1h0M534.0 244.3h0M535.7 243.7h0M538.0 244.3h0M540.7 243.5h0M522.0 245.7h0M523.7 246.1h0M525.8 246.4h0M528.1 246.3h0M530.3 245.8h0M532.5 246.1h0M534.7 245.6h0M536.5 246.1h0M537.5 245.8h0M525.1 248.1h0M527.2 248.2h0M529.1 247.9h0M531.2 248.3h0M533.3 248.4h0M535.0 248.4h0M526.2 249.7h0M528.2 250.0h0M530.0 250.4h0M532.1 249.9h0M534.6 250.4h0M520.6 251.7h0M523.0 252.2h0M524.6 252.2h0M526.7 252.1h0M529.3 251.6h0M530.9 251.6h0M533.6 252.2h0M535.6 252.0h0M537.8 252.2h0M538.7 252.2h0M520.6 253.8h0M522.1 253.9h0M524.5 253.7h0M527.2 254.4h0M529.3 254.0h0M531.5 253.8h0M532.6 254.2h0M534.8 253.6h0M537.4 254.3h0M539.8 254.0h0M523.0 255.6h0M524.8 256.1h0M526.4 256.2h0M528.6 255.8h0M530.3 255.6h0M533.0 256.2h0M535.3 256.4h0M536.9 256.3h0M524.0 257.7h0M526.1 258.4h0M528.3 258.2h0M531.5 258.0h0M533.6 258.0h0M534.6 258.1h0M526.1 260.0h0M528.1 260.4h0M529.1 260.3h0M531.7 259.7h0M534.2 260.0h0M522.0 261.7h0M523.3 262.1h0M525.2 261.8h0M528.3 262.0h0M529.4 261.6h0M531.6 262.3h0M534.2 262.3h0M535.4 261.9h0M537.9 261.9h0M521.0 264.4h0M523.2 264.0h0M525.1 264.3h0M527.6 264.3h0M529.7 264.0h0M532.1 264.0h0M533.6 264.2h0M536.7 264.0h0M538.9 264.5h0M510.3 266.3h0M513.7 265.9h0M514.8 266.2h0M517.2 266.4h0M519.0 265.7h0M521.1 266.5h0M522.8 265.6h0M525.6 265.8h0M527.0 266.3h0M529.9 266.4h0M531.8 265.6h0M534.3 265.6h0M536.7 265.8h0M538.4 265.7h0M540.0 266.2h0M542.9 265.9h0M544.6 265.6h0M546.0 265.5h0M548.3 266.2h0M509.3 267.9h0M512.2 267.7h0M514.2 268.1h0M515.8 267.8h0M518.7 267.9h0M520.2 268.5h0M521.9 268.4h0M524.6 268.3h0M526.3 267.9h0M528.4 267.9h0M530.3 267.5h0M533.3 268.0h0M535.3 268.3h0M536.8 268.5h0M539.5 268.4h0M540.7 268.1h0M543.3 267.7h0M545.1 267.9h0M548.0 268.0h0M549.6 267.7h0M509.5 270.5h0M511.4 270.2h0M512.7 269.7h0M514.7 269.7h0M516.5 270.4h0M519.1 269.9h0M522.1 269.6h0M522.9 270.0h0M526.0 269.5h0M527.2 269.8h0M529.5 269.8h0M531.4 269.6h0M534.3 269.6h0M535.5 269.5h0M538.7 270.3h0M540.4 270.3h0M541.7 270.0h0M544.9 270.0h0M545.9 270.4h0M548.6 270.1h0M550.8 270.1h0M510.1 272.4h0M511.7 272.4h0M514.2 271.8h0M516.1 271.5h0M518.0 272.0h0M519.7 271.6h0M521.8 271.8h0M523.8 272.5h0M526.1 271.7h0M528.3 271.9h0M530.3 272.1h0M533.6 272.0h0M534.6 271.8h0M537.8 272.3h0M539.1 271.7h0M541.5 271.7h0M543.5 271.7h0M545.2 271.7h0M547.2 272.3h0M550.3 272.1h0M515.0 274.0h0M517.6 273.9h0M518.7 273.7h0M521.2 274.2h0M523.7 273.6h0M526.0 274.3h0M527.5 274.1h0M529.5 273.6h0M532.2 273.7h0M534.3 274.3h0M536.8 273.7h0M537.5 273.8h0M540.1 273.9h0M542.4 274.3h0M543.9 273.8h0M515.7 276.3h0M517.7 276.2h0M520.7 275.8h0M521.7 276.3h0M525.0 276.3h0M526.3 276.3h0M529.2 276.1h0M530.4 276.1h0M533.5 275.8h0M535.4 276.2h0M536.5 275.7h0M539.8 275.8h0M541.5 276.5h0M543.3 276.1h0M516.4 278.1h0M518.2 278.4h0M519.8 278.3h0M522.5 278.2h0M525.0 277.7h0M526.9 278.3h0M528.5 277.5h0M530.5 277.7h0M532.7 277.8h0M535.5 278.2h0M536.7 278.4h0M539.1 278.4h0M541.2 278.0h0M543.9 278.5h0M517.6 279.7h0M518.7 279.9h0M521.9 279.6h0M523.5 279.7h0M525.9 279.8h0M527.5 280.3h0M529.9 280.3h0M532.3 280.5h0M533.9 280.5h0M536.5 279.9h0M537.8 279.9h0M540.9 279.7h0M542.3 280.2h0M527.0 281.6h0M529.1 281.7h0M531.5 282.3h0M532.3 282.2h0M517.7 283.9h0M519.5 284.3h0M521.7 284.0h0M523.6 284.3h0M525.8 284.3h0M528.4 284.5h0M529.2 283.5h0M532.2 283.5h0M533.5 284.1h0M536.5 284.3h0M538.7 284.2h0M541.0 283.7h0M542.3 284.0h0M518.6 286.2h0M520.8 285.7h0M523.3 285.9h0M525.6 286.0h0M527.9 285.6h0M529.1 285.9h0M531.3 286.4h0M534.3 286.3h0M536.2 286.3h0M537.7 286.3h0M540.9 286.2h0M512.3 287.9h0M515.8 288.0h0M516.6 288.1h0M519.4 287.7h0M521.2 287.8h0M523.1 288.4h0M525.4 288.0h0M527.3 288.5h0M530.2 288.3h0M531.3 288.0h0M533.6 287.5h0M536.4 288.0h0M538.9 288.2h0M540.1 288.2h0M542.0 288.2h0M545.1 288.4h0M546.2 287.7h0M516.9 290.4h0M518.6 290.0h0M521.2 290.1h0M523.6 290.4h0M526.3 289.5h0M527.2 290.2h0M529.2 290.3h0M531.4 290.3h0M533.7 289.7h0M535.8 290.2h0M538.6 290.5h0M540.2 290.3h0M541.7 289.5h0M511.0 291.6h0M512.5 291.6h0M515.6 291.5h0M517.7 292.4h0M518.9 292.5h0M522.0 291.5h0M523.6 292.4h0M526.2 292.2h0M528.4 291.9h0M529.1 292.2h0M532.6 291.9h0M534.3 292.1h0M536.3 291.6h0M537.8 292.1h0M540.8 292.0h0M542.2 291.5h0M544.7 291.8h0M547.2 292.0h0M548.9 292.5h0M513.3 294.4h0M516.6 294.2h0M518.0 293.6h0M519.9 294.4h0M522.0 294.1h0M525.1 294.0h0M526.9 294.5h0M528.2 294.1h0M530.3 294.2h0M533.5 294.1h0M534.7 293.8h0M537.8 294.1h0M539.0 294.3h0M541.1 293.9h0M544.0 293.6h0M545.3 294.0h0M515.7 296.3h0M516.6 296.0h0M519.0 295.7h0M520.9 295.5h0M523.4 295.6h0M525.3 295.7h0M527.4 295.6h0M529.9 296.1h0M532.5 295.8h0M533.7 295.8h0M535.8 295.5h0M537.7 296.3h0M540.9 295.8h0M542.9 296.1h0M545.0 295.8h0M513.6 298.2h0M515.8 298.1h0M517.5 297.6h0M520.2 297.8h0M522.1 297.8h0M524.5 297.6h0M527.1 297.9h0M528.5 298.3h0M531.5 297.6h0M533.2 297.5h0M535.2 297.8h0M536.6 297.8h0M538.9 297.8h0M540.7 298.4h0M544.0 297.5h0M545.1 298.4h0M517.6 300.2h0M520.2 300.2h0M523.1 299.9h0M524.9 300.0h0M526.1 300.0h0M528.3 300.1h0M531.0 300.5h0M533.3 300.5h0M535.4 300.2h0M536.8 300.0h0M539.9 300.0h0M541.0 299.9h0M520.7 301.6h0M523.7 301.9h0M525.7 302.1h0M527.9 301.9h0M529.6 301.8h0M532.0 302.4h0M534.4 302.4h0M536.7 301.5h0M538.2 302.1h0M518.6 304.3h0M520.5 304.0h0M522.9 303.7h0M524.6 304.4h0M527.4 304.5h0M528.2 304.0h0M531.4 304.1h0M533.5 304.1h0M535.7 304.4h0M536.6 303.5h0M538.8 303.8h0M541.7 303.9h0M512.7 306.1h0M515.7 306.3h0M517.2 306.1h0M519.5 305.6h0M522.1 305.8h0M523.1 305.6h0M525.1 305.7h0M528.3 306.1h0M529.6 306.2h0M532.2 306.2h0M533.6 306.4h0M536.0 306.4h0M538.0 306.3h0M540.3 306.0h0M542.3 305.7h0M544.6 306.2h0M545.9 306.1h0M512.7 308.1h0M514.2 308.3h0M516.2 307.7h0M518.8 308.4h0M520.4 307.7h0M522.9 307.9h0M524.2 308.5h0M526.9 308.0h0M528.0 308.5h0M531.5 307.5h0M532.4 308.5h0M535.6 308.0h0M536.8 308.4h0M538.7 308.3h0M542.0 308.3h0M543.6 308.4h0M544.8 308.3h0M548.2 307.8h0M514.5 309.9h0M516.6 310.1h0M519.4 310.3h0M521.4 309.8h0M523.0 309.9h0M525.9 310.1h0M527.5 310.0h0M529.6 309.8h0M531.6 309.8h0M534.7 309.7h0M535.5 309.8h0M538.9 310.5h0M541.0 309.7h0M541.9 310.5h0M544.4 310.3h0M516.6 311.6h0M519.6 311.7h0M521.3 312.3h0M523.6 312.3h0M526.0 311.7h0M527.7 311.6h0M529.3 312.1h0M531.8 311.7h0M534.7 311.7h0M536.3 312.0h0M538.4 312.5h0M540.0 312.1h0M542.9 311.5h0M513.0 314.4h0M514.6 314.4h0M517.4 313.7h0M519.4 313.6h0M521.1 314.4h0M523.0 313.8h0M526.0 313.7h0M528.1 314.5h0M530.5 314.1h0M532.2 314.1h0M533.6 314.1h0M536.5 314.3h0M537.6 313.6h0M540.7 314.0h0M542.5 314.3h0M544.2 313.8h0M546.9 314.3h0M517.4 316.3h0M520.0 315.8h0M521.0 316.4h0M523.6 315.6h0M525.2 315.5h0M528.3 316.3h0M529.2 316.5h0M532.5 315.9h0M533.9 315.7h0M536.3 315.7h0M537.5 315.9h0M540.8 316.1h0M542.3 315.8h0M516.3 318.1h0M518.8 318.2h0M520.0 318.5h0M521.9 318.4h0M524.5 318.2h0M526.8 317.8h0M528.6 318.3h0M530.6 318.0h0M533.3 318.3h0M535.0 318.3h0M536.6 318.4h0M539.2 317.9h0M542.1 318.5h0M544.2 318.3h0M522.0 320.4h0M524.8 320.1h0M527.4 320.3h0M528.2 319.7h0M531.1 320.2h0M532.3 320.3h0M534.8 319.5h0M537.5 320.1h0M517.5 322.5h0M520.2 322.0h0M522.9 321.6h0M524.5 322.1h0M527.3 321.8h0M528.2 322.0h0M531.1 322.1h0M532.7 321.9h0M534.9 322.4h0M536.5 322.2h0M539.0 321.5h0M540.8 321.5h0M514.8 324.0h0M517.9 323.8h0M519.7 324.5h0M520.8 324.0h0M523.1 323.8h0M525.2 324.0h0M527.8 323.7h0M530.5 323.8h0M531.3 323.8h0M533.8 324.5h0M536.0 323.7h0M538.9 324.3h0M539.9 324.0h0M542.9 323.9h0M544.7 324.4h0M520.7 326.5h0M522.8 325.7h0M525.7 326.0h0M528.2 325.6h0M530.4 326.2h0M532.5 326.0h0M534.1 325.6h0M535.8 326.2h0M537.9 325.9h0M520.0 327.7h0M522.2 327.6h0M525.1 327.9h0M527.2 328.2h0M528.0 327.8h0M531.1 327.8h0M532.5 328.5h0M535.5 328.3h0M537.2 328.5h0M539.2 327.5h0M521.2 329.6h0M523.1 330.1h0M525.5 329.9h0M527.3 330.3h0M530.2 329.7h0M531.4 330.1h0M534.4 329.6h0M536.5 330.0h0M538.9 329.8h0M518.6 331.9h0M521.2 331.7h0M524.0 331.9h0M526.0 331.8h0M527.0 331.6h0M529.3 332.4h0M531.5 332.1h0M534.5 332.0h0M536.0 331.7h0M538.0 332.5h0M539.9 331.7h0M524.9 334.3h0M527.4 333.6h0M528.4 334.2h0M531.2 333.6h0M532.6 334.0h0M535.7 333.6h0M526.1 335.5h0M528.1 335.7h0M531.3 335.5h0M533.3 336.2h0M527.6 337.6h0M529.4 338.2h0M532.6 338.5h0M524.9 339.8h0M526.4 340.3h0M528.5 340.3h0M530.8 339.7h0M532.8 340.1h0M535.1 340.1h0M525.9 342.0h0M529.4 342.4h0M530.5 342.5h0M532.3 341.7h0M526.0 343.8h0M527.6 344.2h0M530.3 344.1h0M532.1 344.2h0M533.3 344.5h0M526.3 345.5h0M528.1 345.7h0M530.1 345.9h0M532.3 345.9h0M534.5 346.3h0M525.4 348.0h0M527.0 347.9h0M530.2 348.2h0M532.5 347.5h0M534.3 347.9h0M529.5 350.4h0M529.2 352.2h0M530.6 351.9h0M508.1 269.2h0M509.2 269.1h0M512.3 268.8h0M514.1 269.0h0M515.1 269.1h0M518.0 269.1h0M519.6 269.2h0M522.4 268.8h0M524.4 269.2h0M526.5 269.0h0M527.9 268.9h0M529.2 268.8h0M531.7 268.7h0M533.7 268.9h0M536.3 269.3h0M538.4 268.9h0M539.6 269.4h0M542.5 268.7h0M544.1 268.8h0M546.2 269.1h0M547.5 269.3h0M549.2 268.6h0M551.4 269.1h0M507.7 288.1h0M509.5 287.8h0M511.9 288.2h0M514.1 288.1h0M515.5 287.9h0M518.0 287.7h0M519.9 288.1h0M521.9 288.3h0M523.5 287.9h0M526.3 288.2h0M528.1 288.2h0M529.2 287.6h0M532.1 288.0h0M534.0 287.9h0M536.2 288.3h0M538.4 288.0h0M540.1 288.0h0M541.5 287.9h0M544.0 288.1h0M546.3 287.9h0M547.7 287.8h0M549.3 288.0h0M551.7 288.2h0M511.2 309.7h0M513.6 310.2h0M516.4 309.8h0M518.2 309.6h0M519.2 309.6h0M522.1 310.0h0M524.3 309.8h0M525.8 310.2h0M527.7 309.7h0M529.9 310.2h0M532.1 309.7h0M533.2 309.9h0M536.1 309.6h0M537.7 310.0h0M539.7 310.2h0M541.6 309.9h0M543.2 309.8h0M545.2 310.1h0M547.3 310.2h0" stroke="#0000ff" stroke-width="2.9" stroke-linecap="round" fill="none"/>
<path d="M654.4 81.0h0M654.4 90.1h0M654.4 109.1h0M654.4 113.2h0M654.4 121.0h0M654.4 124.2h0M655.6 125.6h0M654.4 128.0h0M654.4 130.4h0M654.4 133.6h0M654.1 137.8h0M657.1 137.8h0M654.4 150.0h0M655.9 152.0h0M654.4 154.0h0M655.9 156.0h0M654.4 158.0h0M656.4 160.0h0M654.4 162.3h0M653.3 168.0h0M655.4 168.3h0M653.9 170.3h0M655.3 170.2h0M653.9 172.5h0M656.0 171.9h0M655.1 173.5h0M651.8 176.2h0M654.8 175.5h0M656.0 176.3h0M654.6 180.3h0M654.3 181.9h0M651.9 183.8h0M653.2 184.0h0M655.4 184.3h0M657.4 183.9h0M651.8 186.4h0M653.3 185.5h0M654.9 185.9h0M657.3 186.4h0M652.8 187.6h0M655.5 188.4h0M652.8 190.0h0M654.9 190.4h0M656.1 189.8h0M652.3 191.9h0M654.1 192.0h0M656.9 192.4h0M651.8 194.0h0M653.2 194.3h0M655.5 194.3h0M657.1 193.5h0M652.2 196.4h0M653.8 195.9h0M656.4 195.9h0M652.6 197.5h0M653.8 198.2h0M656.1 198.2h0M651.6 199.6h0M654.4 199.8h0M656.0 199.8h0M651.8 202.3h0M655.0 201.6h0M656.9 201.8h0M654.4 203.8h0M650.7 205.9h0M652.8 205.7h0M655.2 206.2h0M656.9 206.4h0M649.8 208.4h0M651.6 207.8h0M653.7 207.8h0M657.0 208.3h0M658.1 207.9h0M648.4 210.2h0M651.2 210.1h0M653.5 209.8h0M655.7 209.9h0M658.2 209.7h0M660.4 209.8h0M648.9 211.5h0M650.7 212.1h0M653.3 212.5h0M656.0 212.3h0M656.9 211.8h0M659.0 211.8h0M654.6 213.8h0M651.1 216.0h0M652.9 215.7h0M655.4 216.2h0M657.1 216.1h0M649.0 217.5h0M651.8 218.4h0M653.4 218.3h0M655.6 218.1h0M657.7 218.1h0M660.2 218.4h0M652.9 220.2h0M654.9 219.6h0M656.0 219.8h0M648.6 222.4h0M649.6 221.5h0M652.9 221.9h0M654.6 221.6h0M657.0 222.2h0M658.0 222.5h0M660.3 222.4h0M650.7 223.8h0M652.7 223.9h0M654.4 224.3h0M655.9 224.0h0M658.4 223.8h0M647.0 225.8h0M649.5 226.4h0M651.1 225.6h0M653.8 225.7h0M655.1 225.7h0M658.2 225.7h0M660.0 226.2h0M661.2 226.2h0M646.6 228.5h0M649.1 228.2h0M651.6 228.3h0M652.8 227.5h0M654.8 228.1h0M657.1 227.7h0M659.5 227.8h0M661.9 227.8h0M645.5 229.8h0M647.2 230.2h0M648.9 230.3h0M651.8 230.2h0M652.6 229.7h0M655.5 229.7h0M657.8 229.8h0M660.1 230.1h0M661.4 229.7h0M663.2 230.0h0M645.9 232.0h0M647.4 231.9h0M650.1 231.8h0M651.7 231.7h0M655.0 231.9h0M656.0 231.8h0M659.2 231.7h0M660.1 231.9h0M663.2 231.9h0M646.0 234.4h0M648.5 233.5h0M649.9 233.7h0M653.0 233.8h0M655.1 234.1h0M656.7 233.7h0M658.6 233.9h0M660.8 234.4h0M662.2 234.1h0M648.4 236.0h0M650.7 236.0h0M653.0 236.0h0M655.3 236.3h0M657.2 235.7h0M658.9 236.0h0M646.3 237.9h0M648.8 237.5h0M650.1 238.1h0M652.1 238.0h0M653.9 238.4h0M656.6 238.3h0M658.8 237.8h0M660.7 238.2h0M662.2 238.0h0M645.9 239.8h0M647.6 240.1h0M650.2 240.2h0M651.8 240.4h0M654.7 239.6h0M657.1 240.2h0M658.0 239.8h0M660.3 239.6h0M662.5 239.9h0M650.8 241.8h0M653.9 241.9h0M655.9 241.8h0M656.9 242.4h0M652.0 243.6h0M654.6 243.8h0M655.9 243.5h0M651.6 246.4h0M654.9 245.9h0M656.4 245.8h0M650.9 248.4h0M651.7 247.9h0M654.2 248.3h0M656.3 248.2h0M658.3 247.5h0M653.3 250.3h0M655.9 250.4h0M651.8 252.0h0M654.4 251.7h0M656.7 251.6h0M647.9 254.0h0M650.9 253.9h0M651.7 253.9h0M654.5 254.1h0M657.2 253.6h0M659.0 253.9h0M661.4 253.7h0M648.7 255.8h0M650.0 255.9h0M652.2 256.3h0M654.8 256.3h0M656.8 255.6h0M658.4 255.6h0M660.1 256.4h0M649.5 258.2h0M650.5 258.0h0M653.6 257.5h0M655.4 258.4h0M658.0 257.7h0M660.3 257.6h0M649.6 259.6h0M651.6 259.6h0M653.5 260.2h0M654.7 259.8h0M657.2 260.0h0M659.0 260.4h0M644.3 261.8h0M646.4 262.3h0M649.2 261.6h0M651.2 261.8h0M654.1 261.6h0M655.2 262.4h0M657.6 262.0h0M659.4 261.6h0M662.5 262.4h0M663.6 261.6h0M643.5 263.7h0M644.6 263.6h0M647.5 264.3h0M649.9 264.1h0M650.8 264.1h0M653.7 264.2h0M655.6 263.7h0M657.5 264.5h0M659.0 264.5h0M661.3 264.1h0M664.0 263.8h0M666.7 263.7h0M634.2 265.6h0M637.0 266.4h0M638.4 266.2h0M640.7 266.5h0M642.6 266.1h0M644.3 266.1h0M646.9 266.3h0M649.8 266.0h0M651.5 266.2h0M653.7 266.0h0M654.9 265.8h0M657.1 266.1h0M659.0 265.5h0M661.1 266.0h0M663.3 266.3h0M665.8 266.3h0M668.4 265.6h0M670.0 266.3h0M672.7 266.4h0M674.3 266.0h0M638.0 268.0h0M640.1 268.1h0M641.7 267.7h0M643.9 268.0h0M645.5 268.2h0M647.6 267.8h0M650.1 267.6h0M652.6 267.7h0M653.7 268.3h0M657.1 267.9h0M658.6 267.5h0M660.4 267.9h0M662.1 267.6h0M664.4 267.7h0M667.7 268.3h0M668.6 268.0h0M670.8 267.5h0M635.7 269.6h0M637.6 269.9h0M639.9 269.6h0M641.7 270.2h0M643.4 270.3h0M645.4 269.5h0M647.9 270.4h0M650.4 269.6h0M652.0 269.5h0M655.1 270.4h0M656.7 270.5h0M659.3 270.4h0M660.4 270.2h0M662.8 270.3h0M664.6 269.8h0M666.4 270.4h0M668.9 269.6h0M671.8 269.9h0M673.5 270.2h0M637.7 272.1h0M639.1 271.9h0M641.4 272.3h0M644.4 271.6h0M645.4 271.5h0M648.5 272.3h0M650.6 271.6h0M652.6 271.6h0M654.4 271.9h0M656.1 272.3h0M658.8 272.1h0M660.8 272.3h0M662.1 271.9h0M664.2 272.0h0M667.4 272.1h0M669.3 271.7h0M671.8 271.7h0M644.3 274.1h0M646.4 274.2h0M649.6 273.6h0M651.1 274.0h0M654.0 274.4h0M655.6 274.0h0M657.9 274.3h0M659.1 273.5h0M662.3 273.8h0M663.4 274.1h0M639.3 276.3h0M641.2 275.9h0M642.6 276.3h0M644.9 275.9h0M647.6 275.9h0M648.7 276.5h0M651.8 276.1h0M653.4 276.0h0M656.0 276.4h0M658.2 275.8h0M659.3 275.8h0M662.2 276.4h0M664.0 276.3h0M665.4 275.9h0M667.4 276.2h0M670.8 276.4h0M645.2 277.8h0M647.2 278.1h0M649.9 277.9h0M651.2 277.8h0M654.1 278.2h0M655.5 278.4h0M657.0 277.7h0M660.0 277.6h0M661.0 278.2h0M663.6 278.4h0M641.6 279.6h0M644.2 279.8h0M646.1 280.3h0M647.7 280.0h0M650.9 280.0h0M651.9 280.1h0M654.2 280.4h0M656.3 280.3h0M658.0 279.9h0M661.1 280.2h0M662.7 280.2h0M664.7 280.5h0M666.6 280.3h0M644.6 282.2h0M646.7 282.2h0M647.4 281.9h0M650.1 282.3h0M652.6 281.8h0M654.1 282.0h0M656.5 282.4h0M658.5 282.1h0M660.9 282.3h0M663.0 281.5h0M665.1 281.6h0M643.1 284.3h0M645.5 284.0h0M646.7 283.8h0M649.6 284.1h0M651.8 284.3h0M653.6 284.1h0M655.3 284.5h0M657.6 284.2h0M659.8 283.6h0M661.1 284.0h0M663.8 284.2h0M665.2 284.0h0M635.6 285.9h0M637.3 286.4h0M640.2 285.5h0M641.3 286.0h0M644.4 285.8h0M645.3 286.0h0M647.4 285.7h0M650.8 285.7h0M651.7 285.7h0M653.9 286.2h0M656.1 286.2h0M657.9 286.1h0M660.5 285.6h0M663.1 286.1h0M664.7 286.3h0M666.4 285.8h0M668.8 285.9h0M671.0 285.9h0M673.0 286.4h0M631.1 288.5h0M634.0 288.2h0M635.7 287.9h0M638.3 287.5h0M639.3 288.3h0M642.2 288.0h0M643.3 288.1h0M645.3 288.0h0M647.6 288.2h0M650.9 287.6h0M652.7 287.5h0M655.0 288.3h0M656.7 288.2h0M658.8 288.2h0M660.4 288.5h0M663.3 287.7h0M665.5 288.0h0M667.2 287.8h0M669.7 287.5h0M670.8 288.5h0M673.2 288.1h0M675.4 287.5h0M677.9 288.1h0M646.5 289.5h0M649.7 290.1h0M651.4 290.2h0M652.6 289.7h0M654.7 289.8h0M658.2 290.2h0M659.9 289.7h0M662.2 290.5h0M650.4 292.2h0M652.5 291.8h0M654.0 291.9h0M657.1 292.0h0M659.3 291.8h0M645.6 293.9h0M647.3 294.2h0M648.7 293.9h0M651.4 294.1h0M653.5 294.0h0M655.8 293.8h0M657.0 293.9h0M659.9 293.8h0M661.8 293.9h0M663.2 294.0h0M646.7 296.1h0M649.1 296.3h0M651.5 296.1h0M653.6 296.2h0M655.1 295.6h0M658.2 295.9h0M659.9 296.5h0M661.2 296.1h0M642.7 298.2h0M644.8 297.6h0M647.6 298.3h0M649.7 297.6h0M651.6 297.6h0M653.0 297.9h0M655.2 298.2h0M657.4 298.0h0M659.5 298.3h0M662.4 297.5h0M664.2 297.9h0M666.4 298.4h0M644.5 299.8h0M647.5 299.7h0M649.3 299.8h0M651.1 300.4h0M653.3 300.3h0M655.4 300.2h0M657.0 300.1h0M660.1 299.7h0M661.0 300.2h0M663.7 300.0h0M635.0 302.0h0M637.9 302.5h0M639.1 302.4h0M642.2 302.4h0M643.2 301.8h0M646.4 301.7h0M648.4 301.9h0M650.1 302.1h0M652.1 302.5h0M654.2 301.6h0M656.0 302.0h0M659.1 302.3h0M661.2 302.3h0M663.3 302.3h0M665.0 301.9h0M666.7 302.5h0M669.2 301.7h0M671.7 302.2h0M673.8 301.6h0M636.8 303.5h0M639.0 304.0h0M640.4 304.3h0M643.1 304.3h0M645.4 304.0h0M647.0 304.0h0M648.9 304.1h0M650.8 303.6h0M653.4 303.9h0M655.9 303.8h0M657.3 303.6h0M659.0 304.3h0M661.5 304.1h0M663.2 304.4h0M666.1 303.7h0M668.0 303.7h0M669.8 303.9h0M672.7 304.5h0M640.4 306.4h0M641.7 306.1h0M643.4 305.7h0M645.3 306.2h0M648.7 306.0h0M650.8 306.3h0M652.3 306.1h0M654.8 306.2h0M655.8 306.4h0M658.3 305.8h0M661.4 306.2h0M662.3 306.3h0M665.3 306.3h0M667.7 305.9h0M669.4 305.9h0M638.3 308.4h0M639.5 308.1h0M641.1 307.8h0M643.4 307.9h0M646.2 307.7h0M648.4 308.3h0M649.7 307.9h0M652.5 307.8h0M654.8 308.0h0M656.4 308.2h0M658.5 308.3h0M660.0 308.1h0M662.5 308.4h0M664.8 307.9h0M666.8 308.3h0M669.8 307.5h0M670.8 307.8h0M636.7 310.1h0M638.2 310.0h0M640.6 309.5h0M642.3 310.2h0M645.5 310.4h0M646.7 310.1h0M649.1 310.5h0M651.8 309.9h0M653.9 310.2h0M655.5 310.1h0M657.6 309.6h0M660.2 310.4h0M661.9 310.4h0M664.2 310.0h0M665.4 310.2h0M668.1 310.0h0M670.5 310.3h0M671.7 310.4h0M639.1 312.0h0M641.2 311.8h0M642.3 312.3h0M645.5 311.9h0M647.1 312.3h0M649.5 311.9h0M650.7 312.0h0M652.8 312.2h0M656.1 312.5h0M657.8 312.0h0M660.2 311.6h0M662.4 311.5h0M663.2 312.0h0M665.8 311.6h0M668.7 312.5h0M670.7 312.1h0M640.6 313.9h0M642.9 314.1h0M644.6 314.3h0M647.1 313.7h0M648.7 314.1h0M651.0 313.8h0M652.8 314.3h0M655.2 314.3h0M657.6 314.1h0M659.9 314.5h0M661.1 314.3h0M664.3 313.9h0M666.2 313.8h0M668.8 314.0h0M635.8 316.4h0M637.1 316.3h0M639.3 316.0h0M642.1 316.0h0M643.7 316.3h0M646.7 316.1h0M648.7 315.5h0M650.4 316.0h0M652.0 315.9h0M653.9 316.4h0M656.4 316.5h0M657.9 315.8h0M661.2 316.4h0M662.9 316.0h0M665.5 316.5h0M667.2 316.1h0M668.8 315.7h0M671.7 315.6h0M672.9 316.3h0M637.7 318.4h0M639.2 317.9h0M641.1 317.7h0M643.9 317.7h0M646.6 318.2h0M648.7 318.1h0M650.2 318.2h0M652.4 318.2h0M654.8 318.0h0M656.7 317.7h0M658.9 318.0h0M660.1 318.3h0M663.3 317.8h0M664.3 318.3h0M667.7 317.6h0M669.2 318.1h0M670.6 318.0h0M634.9 320.2h0M637.1 320.2h0M638.0 319.9h0M640.5 319.5h0M642.8 319.8h0M645.0 319.9h0M647.0 320.0h0M649.5 319.5h0M651.0 320.4h0M652.6 320.2h0M655.1 320.5h0M657.0 320.5h0M660.2 320.0h0M662.3 319.5h0M664.2 319.8h0M665.8 319.6h0M667.4 320.4h0M670.8 320.4h0M672.7 319.5h0M673.6 319.6h0M629.9 321.7h0M633.1 321.8h0M634.8 321.6h0M636.4 321.7h0M639.0 321.7h0M641.0 321.7h0M643.0 322.0h0M645.7 321.6h0M646.7 322.2h0M649.4 321.9h0M651.1 322.5h0M653.5 322.3h0M654.7 322.1h0M657.7 322.2h0M659.2 322.5h0M661.6 321.5h0M663.4 322.0h0M666.1 322.0h0M668.7 321.7h0M670.6 322.1h0M672.5 322.0h0M673.9 321.9h0M676.2 322.5h0M678.6 321.5h0M638.1 324.0h0M641.3 323.8h0M643.3 324.0h0M644.6 323.7h0M647.0 324.1h0M649.4 324.4h0M651.3 324.2h0M653.8 324.1h0M655.5 324.0h0M657.2 324.2h0M660.0 323.6h0M661.6 323.9h0M663.9 324.4h0M666.0 324.2h0M668.1 324.4h0M670.6 323.9h0M647.7 325.5h0M650.5 326.5h0M651.8 326.1h0M654.9 325.8h0M657.2 326.2h0M659.3 326.5h0M660.8 326.4h0M647.5 327.7h0M649.9 328.2h0M651.6 328.3h0M653.9 327.8h0M656.9 327.6h0M658.7 327.6h0M661.3 328.5h0M648.3 329.9h0M649.8 330.4h0M652.3 329.5h0M654.8 330.4h0M657.0 330.5h0M658.5 330.1h0M661.2 330.5h0M649.9 331.6h0M652.4 331.7h0M654.3 332.0h0M656.9 332.4h0M658.1 331.7h0M645.7 334.3h0M647.4 334.2h0M650.5 334.3h0M652.5 334.3h0M655.1 334.0h0M655.8 334.2h0M658.5 334.1h0M661.4 334.2h0M662.8 333.5h0M652.7 335.8h0M653.9 336.4h0M657.0 335.9h0M644.3 338.3h0M646.4 338.4h0M649.9 337.5h0M651.3 337.8h0M654.1 338.2h0M655.6 338.1h0M658.0 338.1h0M659.6 338.4h0M661.8 338.2h0M663.5 337.9h0M651.5 340.4h0M653.5 339.6h0M655.3 340.0h0M658.2 340.5h0M651.9 342.3h0M653.0 342.0h0M655.6 342.3h0M657.7 342.4h0M654.0 343.7h0M655.4 343.7h0M650.8 345.7h0M653.2 345.5h0M656.1 346.0h0M657.7 346.2h0M653.4 347.9h0M655.2 347.6h0M653.2 350.1h0M655.3 350.5h0M651.8 352.1h0M653.8 351.5h0M657.2 352.0h0M654.9 354.5h0M653.8 356.2h0M656.0 356.3h0M615.0 269.6h0M616.3 269.8h0M618.0 269.3h0M620.7 269.5h0M622.4 269.2h0M624.2 269.8h0M626.5 269.4h0M628.5 269.3h0M630.5 269.5h0M632.1 269.3h0M633.9 269.1h0M635.8 269.8h0M637.9 269.3h0M639.9 269.6h0M642.3 269.1h0M644.2 269.5h0M646.2 269.6h0M649.0 269.1h0M650.2 269.6h0M652.3 269.2h0M654.3 269.8h0M656.5 269.4h0M658.4 269.6h0M660.9 269.6h0M662.6 269.0h0M664.4 269.1h0M666.0 269.7h0M667.9 269.1h0M670.1 269.3h0M673.0 269.4h0M673.8 269.7h0M676.8 269.4h0M677.8 269.7h0M680.1 269.7h0M682.3 269.5h0M684.7 269.0h0M685.9 269.1h0M688.5 269.1h0M691.0 269.1h0M692.8 269.1h0M694.3 269.5h0M628.7 268.0h0M631.0 267.5h0M631.9 267.9h0M635.1 267.6h0M637.0 267.8h0M637.9 267.9h0M640.3 267.9h0M642.2 268.0h0M644.1 267.6h0M646.9 267.5h0M647.8 268.1h0M650.0 267.5h0M651.9 267.7h0M654.6 268.1h0M657.1 267.9h0M658.0 267.8h0M660.3 267.6h0M662.5 268.0h0M664.0 267.9h0M666.2 267.6h0M668.1 267.6h0M670.8 267.6h0M672.5 268.1h0M673.8 267.5h0M675.9 267.4h0M678.5 267.9h0M680.5 267.6h0M630.1 271.2h0M631.6 271.1h0M633.7 270.9h0M635.4 270.7h0M638.0 271.0h0M639.8 271.2h0M642.1 271.3h0M644.0 271.1h0M645.0 271.4h0M646.7 270.9h0M649.3 271.3h0M651.5 270.7h0M653.2 270.8h0M655.2 271.0h0M656.8 271.2h0M659.9 271.3h0M661.4 270.8h0M662.9 270.8h0M665.4 270.9h0M667.3 271.1h0M669.9 270.8h0M671.8 270.8h0M673.8 271.0h0M675.1 270.9h0M678.0 271.4h0M679.2 271.1h0M634.8 265.8h0M637.7 265.8h0M638.8 265.8h0M642.0 265.9h0M643.8 266.0h0M645.2 266.5h0M647.4 265.9h0M649.7 266.2h0M651.2 265.9h0M653.6 266.5h0M654.9 266.3h0M657.8 266.0h0M659.3 266.0h0M662.0 266.0h0M663.6 265.9h0M665.0 265.8h0M667.5 266.0h0M669.3 266.6h0M671.0 266.2h0M672.9 266.4h0M639.1 272.7h0M639.8 272.4h0M643.0 272.4h0M644.7 272.6h0M646.0 273.0h0M648.6 272.3h0M650.2 272.8h0M652.9 272.5h0M654.2 272.6h0M656.7 272.7h0M658.0 272.4h0M659.8 272.9h0M662.3 272.7h0M664.6 272.4h0M667.1 272.6h0M668.3 272.3h0M671.0 272.9h0M632.3 287.4h0M634.9 287.4h0M636.1 287.5h0M638.1 287.9h0M641.0 288.0h0M643.0 287.3h0M644.9 287.4h0M647.0 287.6h0M647.8 287.3h0M650.2 287.4h0M652.0 288.0h0M653.9 287.6h0M655.9 287.5h0M658.0 287.6h0M660.4 287.5h0M663.1 287.3h0M664.5 287.3h0M665.9 287.3h0M668.2 287.5h0M670.8 287.5h0M671.8 288.0h0M673.9 287.8h0M676.9 288.0h0M633.8 306.4h0M635.4 306.8h0M637.2 306.2h0M638.8 306.6h0M642.0 306.9h0M643.5 306.2h0M645.1 306.7h0M646.9 306.8h0M649.0 306.5h0M651.3 306.5h0M653.9 306.6h0M655.3 306.9h0M657.5 306.8h0M660.0 306.5h0M660.9 306.5h0M663.9 306.9h0M665.1 306.8h0M668.1 306.2h0M669.2 306.7h0M672.0 306.7h0M672.9 306.7h0M676.1 306.4h0M632.0 322.5h0M633.8 322.8h0M635.5 322.4h0M637.9 322.5h0M639.0 322.6h0M641.5 322.6h0M643.8 322.6h0M645.3 322.7h0M647.3 322.1h0M649.9 322.4h0M651.9 322.5h0M652.8 322.5h0M655.0 322.5h0M656.8 322.7h0M659.0 322.3h0M661.5 322.5h0M663.4 322.3h0M665.9 322.8h0M667.8 322.6h0M669.8 322.3h0M672.0 322.4h0M672.8 322.4h0M675.6 322.8h0M677.3 322.4h0" stroke="#0000ff" stroke-width="2.9" stroke-linecap="round" fill="none"/>
<path d="M778.8 93.2h0M778.8 103.3h0M778.8 107.5h0M778.8 113.1h0M778.8 119.6h0M778.8 127.8h0M778.8 134.6h0M778.8 141.3h0M778.8 143.7h0M781.2 143.7h0M778.8 146.0h0M781.2 146.0h0M778.8 148.4h0M778.3 152.0h0M780.3 154.5h0M778.3 157.0h0M780.3 159.5h0M778.8 162.0h0M779.8 164.5h0M778.8 166.0h0M778.8 353.6h0M778.7 171.4h0M778.4 173.0h0M776.5 175.4h0M779.0 174.7h0M781.1 175.3h0M777.1 177.1h0M778.1 177.5h0M780.6 176.8h0M775.1 179.4h0M776.3 178.7h0M778.7 179.3h0M780.4 179.4h0M783.0 178.8h0M776.1 183.5h0M779.5 183.3h0M781.0 182.8h0M776.0 184.7h0M779.1 185.4h0M780.2 184.5h0M778.3 186.9h0M777.3 188.5h0M779.2 189.2h0M778.7 191.0h0M775.7 193.1h0M777.2 192.9h0M780.2 193.2h0M782.4 193.1h0M778.3 195.4h0M780.2 195.5h0M775.4 197.1h0M777.9 197.3h0M779.5 196.6h0M782.2 197.3h0M778.3 198.6h0M777.7 201.5h0M780.3 200.9h0M773.9 203.0h0M776.6 202.7h0M778.7 203.0h0M780.3 203.5h0M783.0 203.1h0M777.8 204.8h0M780.4 205.3h0M776.1 207.1h0M777.7 206.8h0M780.6 206.9h0M781.4 207.4h0M774.6 209.5h0M776.1 208.6h0M778.7 209.0h0M780.8 208.5h0M782.7 208.8h0M775.2 211.5h0M778.2 210.5h0M780.1 210.7h0M782.0 210.8h0M776.5 213.3h0M778.9 212.6h0M780.5 212.8h0M778.4 215.2h0M775.8 217.4h0M778.3 216.6h0M780.5 217.3h0M781.8 216.6h0M773.3 219.1h0M775.2 218.9h0M778.2 219.4h0M779.8 219.4h0M781.7 219.3h0M784.2 219.1h0M773.8 220.6h0M775.5 220.9h0M777.5 220.6h0M780.1 221.1h0M782.2 221.2h0M783.9 220.7h0M777.9 223.2h0M779.1 223.4h0M773.4 225.2h0M776.0 225.1h0M777.8 225.3h0M779.4 224.7h0M782.0 224.5h0M784.8 225.4h0M772.6 226.5h0M774.7 227.1h0M776.5 226.6h0M778.1 227.2h0M780.6 227.3h0M782.7 227.0h0M784.9 226.8h0M776.0 229.0h0M779.3 229.2h0M781.5 228.8h0M770.8 231.2h0M773.1 230.6h0M774.9 231.4h0M776.2 230.5h0M779.0 231.3h0M781.2 230.7h0M783.1 231.0h0M784.6 230.7h0M787.9 231.4h0M776.1 233.3h0M777.5 233.4h0M779.9 233.1h0M782.6 233.3h0M775.2 235.5h0M776.9 235.3h0M778.6 235.2h0M780.8 235.1h0M783.4 235.1h0M770.6 237.1h0M772.6 236.9h0M774.6 237.4h0M777.3 236.6h0M778.8 236.7h0M780.7 237.1h0M782.4 236.6h0M785.0 237.2h0M787.6 237.2h0M776.4 239.1h0M779.2 238.8h0M780.7 239.2h0M772.9 240.7h0M776.0 240.6h0M777.3 241.0h0M780.4 241.0h0M782.0 241.2h0M784.3 241.0h0M774.7 243.5h0M776.8 243.1h0M779.3 243.3h0M781.4 243.4h0M783.0 242.8h0M776.1 245.5h0M777.3 244.9h0M779.3 244.5h0M782.1 245.3h0M771.4 247.1h0M773.8 246.9h0M775.2 246.6h0M777.9 246.8h0M779.5 247.3h0M781.3 247.2h0M784.6 247.4h0M786.6 246.9h0M775.3 248.7h0M776.7 249.1h0M779.2 249.1h0M780.5 248.9h0M782.9 248.8h0M777.6 250.8h0M780.6 250.6h0M770.9 253.0h0M772.1 252.8h0M773.9 253.1h0M776.9 253.5h0M779.1 253.1h0M780.2 253.0h0M782.7 252.7h0M785.3 253.1h0M787.5 253.0h0M771.0 254.6h0M773.6 255.0h0M775.2 255.4h0M777.5 254.8h0M780.2 254.7h0M782.6 255.3h0M783.4 254.5h0M786.7 254.5h0M773.1 257.3h0M776.2 257.4h0M777.5 257.1h0M779.4 257.4h0M781.5 257.2h0M784.7 256.9h0M771.1 259.3h0M774.1 259.0h0M775.2 258.6h0M777.9 259.0h0M779.3 258.7h0M781.7 258.6h0M784.7 258.8h0M786.3 258.7h0M767.9 260.9h0M769.8 260.6h0M772.5 260.9h0M775.3 260.6h0M777.0 261.5h0M779.3 261.1h0M781.5 261.5h0M782.3 260.6h0M785.1 261.5h0M787.0 261.2h0M789.0 260.6h0M770.1 262.6h0M771.5 263.3h0M773.0 262.8h0M775.1 263.3h0M777.2 262.7h0M779.4 262.9h0M782.2 262.8h0M784.4 263.4h0M786.0 263.3h0M788.0 262.8h0M766.9 264.7h0M769.0 265.4h0M771.7 265.3h0M774.2 265.1h0M775.0 264.7h0M777.3 264.8h0M779.2 264.7h0M781.2 265.2h0M784.8 265.5h0M786.2 265.5h0M787.6 264.7h0M789.9 264.9h0M765.9 266.9h0M767.8 266.6h0M769.8 266.5h0M773.0 266.9h0M775.2 266.9h0M776.4 266.6h0M778.9 267.1h0M781.3 266.8h0M783.5 266.6h0M785.1 266.8h0M786.7 267.2h0M788.9 266.6h0M791.4 266.9h0M769.4 269.2h0M771.0 269.5h0M773.4 269.2h0M775.0 269.4h0M777.9 268.5h0M779.7 269.3h0M781.9 269.1h0M784.6 268.8h0M786.3 268.5h0M788.8 268.9h0M765.5 270.8h0M768.0 270.5h0M770.8 271.2h0M772.4 271.1h0M774.3 270.5h0M777.0 271.1h0M778.7 270.7h0M780.4 271.4h0M783.4 270.9h0M785.6 270.9h0M787.5 271.1h0M789.2 271.4h0M791.4 270.6h0M763.6 273.2h0M764.7 272.8h0M767.0 272.8h0M769.7 272.9h0M771.4 273.0h0M774.1 272.6h0M775.8 273.4h0M777.6 273.1h0M780.2 273.1h0M781.8 273.4h0M783.4 272.5h0M786.0 273.1h0M788.8 272.9h0M790.2 272.6h0M793.1 273.2h0M794.2 273.0h0M766.0 275.1h0M768.5 275.1h0M770.6 274.8h0M771.9 274.8h0M773.9 275.0h0M776.6 275.4h0M778.7 275.0h0M781.2 274.6h0M783.3 275.0h0M785.1 274.8h0M787.0 275.3h0M788.9 274.8h0M792.0 275.0h0M764.5 277.2h0M766.0 276.7h0M767.9 277.1h0M770.2 276.5h0M772.6 276.6h0M774.5 276.5h0M776.1 276.7h0M779.3 276.5h0M781.4 276.6h0M783.5 276.8h0M785.1 277.3h0M786.7 277.5h0M788.8 276.5h0M792.1 277.2h0M792.9 276.5h0M773.1 279.3h0M775.3 279.3h0M776.3 279.5h0M779.1 278.6h0M780.3 279.2h0M783.4 278.8h0M784.8 278.8h0M764.5 280.9h0M767.9 281.0h0M769.2 281.2h0M770.8 280.8h0M774.0 281.3h0M775.4 281.4h0M777.7 281.3h0M780.3 281.4h0M781.7 280.9h0M784.2 281.2h0M786.6 281.3h0M788.9 280.7h0M791.0 281.0h0M791.8 281.4h0M761.6 283.3h0M763.6 283.0h0M766.2 283.1h0M768.6 283.2h0M769.8 282.9h0M773.0 282.7h0M774.8 283.4h0M776.2 282.7h0M779.2 283.2h0M780.2 282.9h0M783.5 283.3h0M785.4 282.7h0M786.8 283.3h0M790.0 283.0h0M792.0 282.9h0M793.2 282.7h0M795.9 283.3h0M761.8 285.4h0M763.5 284.6h0M766.1 285.3h0M768.9 285.1h0M771.0 285.0h0M772.8 285.2h0M774.0 284.6h0M777.2 284.9h0M779.2 285.4h0M781.3 285.3h0M782.6 284.7h0M784.4 285.4h0M787.5 285.0h0M788.9 284.5h0M790.8 285.1h0M793.7 285.4h0M795.0 284.8h0M755.6 286.8h0M757.6 287.4h0M760.4 286.9h0M761.3 287.1h0M763.4 287.3h0M766.4 287.3h0M768.0 286.7h0M770.2 286.8h0M772.5 286.6h0M774.6 287.5h0M776.8 287.0h0M778.2 286.6h0M781.3 287.2h0M783.4 286.6h0M784.6 287.4h0M787.0 286.8h0M788.8 287.4h0M791.1 286.6h0M793.6 286.9h0M796.0 287.0h0M797.7 286.5h0M799.4 286.7h0M801.6 286.6h0M765.2 289.2h0M766.7 289.2h0M768.7 289.0h0M771.6 289.4h0M773.4 288.7h0M775.8 289.1h0M777.0 289.5h0M780.3 289.2h0M781.8 289.5h0M783.5 288.9h0M786.6 288.6h0M788.8 288.8h0M790.0 288.6h0M793.0 289.0h0M760.9 290.5h0M763.4 291.3h0M765.3 291.4h0M767.5 291.0h0M768.8 291.2h0M770.9 290.8h0M773.8 290.9h0M776.0 290.9h0M778.2 290.5h0M779.8 290.6h0M782.4 290.7h0M783.9 291.2h0M785.8 290.8h0M788.3 290.8h0M790.7 290.8h0M792.7 291.3h0M794.0 291.1h0M796.4 291.3h0M763.1 292.8h0M765.5 293.0h0M767.0 292.8h0M768.8 293.5h0M771.3 293.5h0M773.2 292.5h0M776.3 293.4h0M778.0 293.3h0M780.4 292.6h0M781.7 292.9h0M783.8 292.8h0M785.9 293.4h0M788.8 293.5h0M791.0 292.9h0M793.2 292.6h0M794.6 292.8h0M764.7 294.7h0M767.8 294.8h0M769.6 294.9h0M772.1 295.3h0M773.5 295.1h0M775.5 295.4h0M777.7 295.3h0M779.1 295.3h0M782.5 295.1h0M784.4 295.1h0M785.7 294.8h0M789.0 294.6h0M790.3 295.1h0M792.0 295.2h0M770.9 296.8h0M773.7 296.8h0M775.8 297.3h0M778.1 296.9h0M779.4 297.0h0M781.6 296.9h0M784.1 296.6h0M785.7 296.5h0M769.8 299.3h0M771.8 299.2h0M773.9 298.8h0M776.4 298.9h0M778.2 298.8h0M781.0 299.4h0M783.1 298.8h0M785.5 299.3h0M786.5 299.1h0M764.2 301.1h0M766.0 300.6h0M768.8 301.3h0M771.0 300.7h0M772.3 301.4h0M774.0 300.8h0M776.3 301.1h0M779.0 300.7h0M780.7 300.5h0M782.7 300.8h0M784.8 301.2h0M787.8 301.1h0M789.9 301.2h0M791.9 301.5h0M793.3 300.9h0M769.0 302.7h0M771.3 302.5h0M773.9 302.8h0M775.5 302.6h0M778.2 303.3h0M779.4 303.0h0M781.8 302.7h0M784.0 302.9h0M786.7 303.3h0M787.7 303.5h0M764.0 305.4h0M765.6 304.7h0M767.8 305.1h0M770.2 304.9h0M772.9 305.2h0M775.0 305.0h0M776.7 305.0h0M778.7 305.0h0M780.5 304.6h0M783.3 304.6h0M784.5 305.2h0M787.7 305.1h0M789.2 305.4h0M790.9 304.7h0M793.4 304.7h0M765.9 307.4h0M767.7 307.2h0M770.1 307.1h0M772.6 307.4h0M775.1 307.2h0M777.4 307.4h0M779.0 307.1h0M780.4 307.4h0M783.2 307.2h0M785.6 306.8h0M787.1 306.5h0M789.8 306.6h0M791.7 307.4h0M766.2 309.0h0M768.2 308.5h0M769.9 309.1h0M771.9 308.5h0M774.9 309.2h0M777.0 309.4h0M778.4 308.7h0M780.3 309.0h0M783.7 309.1h0M784.6 308.6h0M787.3 309.3h0M789.1 308.7h0M791.3 308.7h0M767.0 311.1h0M768.7 311.1h0M772.0 310.6h0M774.0 310.8h0M775.2 311.0h0M777.6 311.3h0M779.6 310.9h0M781.4 310.6h0M784.6 310.7h0M785.8 310.7h0M788.7 310.8h0M790.7 311.1h0M760.9 313.3h0M762.6 312.8h0M765.8 313.2h0M767.4 313.3h0M768.8 312.6h0M770.9 312.6h0M773.1 312.8h0M775.8 313.4h0M777.1 313.2h0M779.4 313.3h0M782.2 313.1h0M783.6 312.9h0M786.0 312.9h0M788.4 313.1h0M789.7 313.2h0M792.3 313.3h0M794.6 313.4h0M796.8 312.6h0M762.5 315.0h0M765.1 314.7h0M767.9 315.4h0M768.9 315.2h0M771.9 314.7h0M773.5 314.6h0M775.4 314.9h0M778.0 315.5h0M779.4 314.6h0M782.2 315.0h0M783.8 314.8h0M786.5 315.1h0M788.6 315.4h0M790.9 315.1h0M791.9 315.4h0M795.2 314.5h0M767.8 317.2h0M769.5 316.8h0M771.7 317.4h0M774.2 317.4h0M776.3 316.9h0M777.6 317.4h0M779.4 316.5h0M782.1 317.3h0M783.4 317.3h0M786.3 317.4h0M787.7 316.7h0M789.9 317.2h0M760.3 319.4h0M763.5 319.4h0M764.7 319.3h0M767.3 319.3h0M768.8 318.7h0M771.4 318.9h0M773.0 318.7h0M775.7 318.8h0M777.3 319.2h0M779.9 318.6h0M781.7 318.7h0M783.4 319.1h0M785.6 318.6h0M787.6 318.8h0M790.3 319.4h0M792.0 318.8h0M794.8 318.9h0M797.3 318.6h0M769.7 320.8h0M772.3 321.3h0M775.1 321.4h0M777.0 321.4h0M778.3 320.5h0M781.6 320.7h0M783.7 320.8h0M784.9 320.8h0M787.8 321.3h0M771.7 322.5h0M773.1 322.6h0M776.0 323.3h0M777.3 322.8h0M779.1 322.6h0M782.0 323.2h0M783.5 323.3h0M786.3 322.7h0M766.7 324.9h0M768.6 324.5h0M769.9 324.6h0M772.6 324.8h0M774.6 324.9h0M776.8 325.0h0M778.6 325.2h0M780.8 325.5h0M782.8 325.4h0M785.6 325.1h0M786.5 325.2h0M789.3 324.6h0M791.4 325.0h0M772.0 327.3h0M774.2 326.7h0M775.3 327.4h0M777.9 326.6h0M779.7 327.2h0M782.6 326.9h0M784.1 327.4h0M786.5 327.5h0M771.3 328.8h0M773.1 329.3h0M775.1 328.7h0M777.1 328.9h0M779.2 329.1h0M782.3 328.7h0M783.8 329.3h0M786.0 329.1h0M771.1 331.0h0M774.1 331.3h0M776.3 330.7h0M777.3 331.4h0M779.6 330.9h0M781.3 331.5h0M784.3 330.8h0M786.4 330.5h0M773.3 333.2h0M775.9 332.8h0M777.6 332.6h0M779.2 332.8h0M782.6 333.3h0M784.7 332.7h0M774.3 335.1h0M776.3 334.7h0M778.7 334.9h0M780.9 334.6h0M783.0 335.5h0M774.2 337.3h0M776.4 336.7h0M779.2 336.9h0M780.2 336.7h0M783.6 337.0h0M777.2 339.4h0M778.4 339.0h0M780.2 339.3h0M776.2 341.4h0M778.3 341.5h0M781.5 340.8h0M778.2 342.8h0M776.6 347.4h0M778.7 346.7h0M781.1 346.9h0M777.8 349.3h0M779.6 348.9h0M753.3 269.4h0M755.5 269.6h0M757.8 269.8h0M759.3 269.6h0M762.0 269.7h0M764.3 269.7h0M765.4 269.8h0M768.2 270.0h0M769.3 269.6h0M771.3 269.7h0M773.7 270.2h0M775.4 270.1h0M778.4 270.2h0M779.5 269.7h0M781.9 269.5h0M784.5 269.9h0M785.2 269.9h0M787.8 269.8h0M790.4 269.5h0M791.7 269.5h0M793.9 269.5h0M796.2 269.9h0M797.9 269.9h0M799.9 269.8h0M801.3 269.6h0M804.3 269.4h0M741.8 306.7h0M744.0 306.2h0M745.6 306.6h0M748.4 306.6h0M749.3 306.8h0M751.1 306.3h0M753.5 306.5h0M755.3 306.7h0M758.0 306.3h0M759.3 306.2h0M762.4 306.9h0M764.0 306.2h0M766.2 306.9h0M767.6 306.8h0M770.4 306.8h0M772.3 306.5h0M773.4 306.7h0M775.2 306.1h0M777.2 306.8h0M779.3 306.9h0M781.4 306.7h0M783.8 306.7h0M786.4 306.2h0M787.7 306.9h0M789.4 306.4h0M792.1 306.3h0M794.3 306.3h0M796.1 306.6h0M797.5 306.5h0M800.2 306.2h0M802.5 306.9h0M804.5 306.7h0M805.7 306.5h0M808.4 306.5h0M809.9 306.7h0M811.1 306.6h0M813.8 306.3h0M816.3 306.3h0M751.1 305.2h0M752.8 305.1h0M755.2 304.6h0M756.7 304.5h0M758.8 304.7h0M760.2 305.0h0M763.1 304.8h0M764.5 304.9h0M766.5 304.4h0M768.2 304.8h0M771.5 305.1h0M772.9 305.2h0M774.3 304.6h0M776.5 305.1h0M778.7 305.0h0M780.5 304.8h0M783.1 305.1h0M784.9 304.7h0M787.2 304.5h0M788.7 304.9h0M791.2 304.9h0M792.6 305.1h0M795.2 305.1h0M797.0 305.1h0M798.5 305.0h0M800.6 304.5h0M803.1 304.7h0M805.3 304.5h0M806.3 304.9h0M751.2 308.5h0M752.9 307.8h0M754.9 307.9h0M756.2 308.1h0M758.2 308.6h0M761.4 308.4h0M762.7 307.8h0M764.6 308.6h0M766.6 308.0h0M769.0 308.6h0M770.8 307.9h0M773.5 308.4h0M774.3 308.2h0M777.1 308.0h0M778.6 308.0h0M781.0 308.4h0M783.2 308.0h0M785.3 307.8h0M786.7 307.9h0M788.6 307.8h0M790.9 308.4h0M793.4 308.5h0M794.7 308.2h0M796.2 308.0h0M798.4 308.2h0M800.3 308.4h0M803.0 308.2h0M804.2 308.1h0M806.9 308.1h0M755.3 286.7h0M758.1 286.6h0M759.9 286.3h0M761.5 286.8h0M764.3 286.8h0M765.4 286.7h0M768.4 287.0h0M769.3 286.5h0M772.0 286.8h0M773.2 286.8h0M775.3 286.6h0M777.7 286.7h0M780.2 286.8h0M781.9 286.5h0M784.4 287.0h0M785.3 286.7h0M788.4 286.8h0M789.6 286.8h0M792.2 286.2h0M793.7 286.5h0M795.7 286.4h0M797.6 286.9h0M800.3 286.7h0M802.3 286.9h0M759.4 316.0h0M762.2 315.9h0M763.2 316.3h0M765.3 315.8h0M767.1 316.2h0M769.8 315.7h0M772.3 315.6h0M774.3 316.2h0M776.3 315.7h0M777.6 315.9h0M780.2 315.7h0M781.5 316.1h0M783.6 315.6h0M785.8 316.1h0M788.4 315.8h0M789.5 315.9h0M791.4 316.2h0M794.1 315.8h0M795.8 316.3h0M797.7 316.1h0" stroke="#0000ff" stroke-width="2.9" stroke-linecap="round" fill="none"/>
<path d="M903.5 93.4h0M903.5 96.4h0M903.2 107.3h0M904.7 108.5h0M903.5 136.8h0M902.3 143.4h0M904.7 143.4h0M903.5 150.2h0M903.5 152.8h0M903.5 158.0h0M904.5 160.5h0M902.9 164.6h0M900.7 166.7h0M903.5 167.0h0M906.2 166.8h0M901.1 168.6h0M903.9 169.0h0M905.2 168.5h0M904.0 170.5h0M903.2 173.5h0M903.9 174.8h0M903.6 176.9h0M904.1 179.3h0M902.8 180.8h0M901.6 182.6h0M903.1 183.1h0M905.7 183.1h0M902.5 185.0h0M904.6 184.9h0M899.8 187.0h0M902.8 186.6h0M905.3 186.7h0M905.9 186.6h0M903.5 189.0h0M900.8 190.6h0M903.1 191.5h0M905.5 191.1h0M902.2 193.4h0M904.6 192.8h0M898.8 194.6h0M901.6 194.8h0M903.9 195.2h0M905.6 195.4h0M907.2 195.1h0M902.0 196.9h0M903.8 197.1h0M905.2 196.7h0M901.3 199.5h0M903.6 199.4h0M905.7 199.0h0M901.9 200.7h0M904.4 201.5h0M900.9 202.7h0M903.8 203.1h0M905.2 202.6h0M898.2 204.8h0M900.8 205.3h0M902.2 204.8h0M904.3 205.4h0M906.5 204.8h0M908.6 205.5h0M900.5 206.6h0M901.9 207.3h0M904.5 207.0h0M906.8 206.8h0M899.2 208.7h0M901.2 209.2h0M903.2 209.3h0M904.9 209.0h0M908.4 209.4h0M900.9 211.1h0M903.0 211.3h0M905.0 210.8h0M906.1 210.9h0M899.2 212.9h0M901.1 212.8h0M903.5 212.5h0M905.9 213.0h0M907.9 213.5h0M901.6 216.5h0M904.0 216.9h0M906.0 216.5h0M902.7 218.9h0M904.6 218.6h0M902.1 221.5h0M902.9 220.6h0M905.3 220.9h0M900.9 223.0h0M902.8 223.1h0M905.7 223.3h0M901.0 224.5h0M903.1 224.7h0M905.0 225.4h0M899.9 227.1h0M902.1 226.9h0M903.0 227.2h0M905.7 227.0h0M908.3 226.8h0M897.8 228.8h0M900.3 228.8h0M901.8 229.4h0M904.1 229.3h0M906.8 228.9h0M908.9 229.4h0M897.6 231.2h0M901.0 230.7h0M903.2 230.5h0M905.0 231.0h0M906.1 231.1h0M908.3 231.2h0M900.5 233.4h0M901.8 233.3h0M904.1 233.0h0M906.9 233.1h0M899.5 235.1h0M901.8 234.7h0M904.1 235.0h0M905.4 235.5h0M907.1 234.9h0M895.5 236.7h0M896.5 237.0h0M900.0 237.1h0M901.2 237.2h0M903.0 237.4h0M905.2 236.8h0M908.1 237.2h0M910.1 237.4h0M912.1 236.9h0M893.6 239.3h0M894.6 238.9h0M897.6 238.6h0M899.9 238.7h0M901.1 238.7h0M903.7 239.5h0M905.9 238.8h0M908.4 238.6h0M910.2 239.4h0M912.1 239.4h0M913.9 239.1h0M898.7 241.3h0M900.3 241.5h0M901.8 241.4h0M904.9 240.5h0M906.2 240.9h0M909.1 241.2h0M897.8 242.8h0M898.6 242.6h0M902.1 243.4h0M903.0 242.9h0M905.1 242.7h0M907.6 243.5h0M909.1 243.0h0M898.6 244.7h0M900.6 244.9h0M902.4 245.4h0M904.0 244.9h0M907.4 245.0h0M908.9 244.8h0M896.7 247.2h0M899.7 246.8h0M900.9 247.2h0M903.3 247.3h0M906.3 247.4h0M907.5 246.8h0M909.4 247.3h0M896.5 248.7h0M898.8 248.6h0M900.7 248.8h0M903.5 248.6h0M905.9 249.5h0M907.2 249.4h0M909.7 249.4h0M896.3 250.8h0M897.8 251.1h0M900.0 251.2h0M902.9 251.2h0M903.9 250.8h0M906.6 250.6h0M909.2 250.6h0M910.5 251.2h0M892.1 253.4h0M894.4 252.9h0M896.3 252.6h0M897.9 253.0h0M900.8 253.3h0M902.8 253.1h0M903.9 253.2h0M906.6 252.7h0M909.5 252.9h0M910.8 252.8h0M913.2 253.1h0M915.2 252.9h0M895.5 255.0h0M897.8 255.2h0M899.2 254.8h0M902.1 255.0h0M903.2 255.4h0M905.2 254.5h0M907.7 255.0h0M910.1 254.7h0M911.2 255.2h0M894.7 256.7h0M896.6 257.2h0M897.8 256.9h0M900.3 256.6h0M902.3 256.5h0M904.6 256.6h0M907.0 257.2h0M908.4 256.8h0M910.8 257.1h0M912.4 256.9h0M890.5 259.3h0M891.5 258.5h0M893.7 258.8h0M895.8 259.0h0M898.9 258.5h0M901.0 259.5h0M902.4 259.4h0M905.3 258.8h0M907.3 259.5h0M909.0 258.7h0M911.4 259.3h0M913.4 259.0h0M914.7 259.2h0M917.8 258.9h0M893.1 261.0h0M895.5 261.0h0M897.7 260.9h0M899.6 261.3h0M901.5 260.5h0M904.1 261.2h0M906.1 261.3h0M908.3 261.4h0M909.1 261.1h0M912.4 261.2h0M913.8 261.1h0M890.1 262.9h0M892.6 263.1h0M893.9 263.0h0M895.5 262.8h0M898.1 263.1h0M900.5 263.1h0M902.3 263.3h0M904.2 262.5h0M906.9 262.6h0M908.6 263.3h0M910.3 263.3h0M912.7 263.0h0M915.7 263.4h0M917.7 263.0h0M890.3 265.2h0M893.1 265.1h0M894.9 265.0h0M897.7 264.5h0M899.4 264.8h0M902.0 264.7h0M903.8 265.1h0M906.3 265.4h0M907.8 265.1h0M910.1 265.3h0M912.4 264.9h0M913.6 264.9h0M915.6 265.0h0M890.5 266.5h0M891.7 267.3h0M894.1 267.1h0M895.9 266.9h0M898.2 266.8h0M900.8 266.6h0M902.1 267.4h0M904.0 266.6h0M906.1 266.7h0M908.9 266.8h0M911.0 266.9h0M912.8 267.3h0M915.2 266.8h0M916.6 267.4h0M887.1 268.7h0M890.6 269.1h0M891.9 268.6h0M894.7 269.4h0M896.2 269.3h0M898.5 268.9h0M900.2 269.3h0M902.9 268.8h0M903.9 268.8h0M906.8 269.4h0M908.9 268.6h0M911.4 269.1h0M913.6 269.1h0M915.0 269.4h0M917.2 269.4h0M918.9 269.2h0M890.4 270.7h0M893.1 271.4h0M895.2 270.7h0M897.1 270.7h0M900.0 271.2h0M901.9 271.4h0M903.8 270.6h0M906.2 270.8h0M907.1 271.0h0M910.2 271.1h0M911.6 270.9h0M914.5 270.5h0M915.4 271.1h0M888.0 273.2h0M889.9 273.4h0M891.4 273.4h0M894.4 272.9h0M896.8 272.6h0M898.7 272.8h0M900.5 272.7h0M903.1 273.0h0M905.1 273.2h0M906.4 273.4h0M908.3 272.9h0M911.4 272.7h0M913.4 272.8h0M915.0 273.4h0M917.0 272.7h0M919.9 272.6h0M891.8 274.6h0M894.5 275.3h0M895.8 275.0h0M898.8 275.4h0M901.0 274.5h0M901.8 275.3h0M904.0 274.8h0M906.3 274.9h0M909.4 274.8h0M911.4 274.7h0M912.4 275.1h0M914.7 275.5h0M887.5 277.0h0M889.7 276.8h0M891.5 277.1h0M893.6 276.9h0M896.2 276.8h0M898.3 276.9h0M900.8 277.2h0M902.1 277.4h0M904.7 277.2h0M906.9 277.2h0M908.6 276.5h0M911.1 277.3h0M913.5 276.8h0M915.0 277.3h0M916.9 277.1h0M919.3 276.5h0M892.4 279.5h0M894.4 279.0h0M896.5 279.1h0M898.5 278.9h0M900.5 278.7h0M901.7 278.9h0M905.0 278.7h0M906.6 279.2h0M909.5 279.2h0M910.7 278.7h0M913.1 278.5h0M914.6 279.4h0M889.2 280.8h0M891.0 281.2h0M892.4 280.7h0M894.9 281.5h0M896.8 281.0h0M898.9 280.7h0M900.7 280.5h0M903.6 281.3h0M905.0 280.9h0M908.1 280.6h0M910.1 280.6h0M911.8 281.0h0M914.1 281.1h0M916.0 281.3h0M918.4 281.5h0M884.2 283.4h0M885.9 283.4h0M887.3 282.6h0M890.3 282.7h0M892.7 283.1h0M894.1 282.8h0M896.3 283.2h0M898.2 283.3h0M901.0 283.3h0M901.8 282.8h0M904.4 282.9h0M906.1 283.3h0M909.0 283.2h0M910.3 283.0h0M913.6 282.7h0M915.3 283.4h0M916.4 283.1h0M918.7 283.3h0M921.1 282.9h0M923.5 283.3h0M888.4 284.9h0M889.7 284.8h0M891.8 285.3h0M894.1 285.0h0M896.6 285.2h0M898.7 285.1h0M900.9 285.4h0M901.9 285.4h0M905.0 285.3h0M907.1 285.0h0M908.3 284.6h0M910.9 285.4h0M912.6 284.9h0M915.5 284.5h0M917.4 284.7h0M919.8 285.4h0M881.0 286.6h0M882.6 287.2h0M885.0 286.5h0M887.1 287.2h0M888.5 287.5h0M891.3 287.0h0M893.1 287.2h0M894.4 287.2h0M897.6 287.3h0M899.1 287.1h0M901.7 286.6h0M903.7 287.2h0M906.2 287.4h0M907.6 286.8h0M909.4 286.6h0M912.1 287.1h0M913.6 286.6h0M915.4 286.7h0M917.5 287.2h0M919.8 286.6h0M922.2 286.8h0M924.2 287.0h0M926.2 286.8h0M880.8 289.1h0M884.2 288.7h0M886.0 289.2h0M887.5 288.7h0M889.6 288.8h0M892.6 289.2h0M894.3 288.6h0M896.7 289.1h0M898.2 288.9h0M900.1 288.8h0M902.3 289.1h0M904.6 288.6h0M907.2 289.4h0M908.8 288.6h0M911.1 288.7h0M913.2 289.2h0M914.8 288.7h0M916.9 288.6h0M919.2 288.9h0M920.7 288.6h0M924.0 288.7h0M925.6 289.2h0M893.4 291.1h0M895.7 290.7h0M899.0 291.5h0M900.8 290.8h0M902.0 290.6h0M904.7 291.5h0M906.2 290.6h0M908.8 291.4h0M911.1 290.6h0M913.6 291.4h0M888.4 293.0h0M889.4 292.9h0M891.7 292.8h0M894.7 292.7h0M896.7 293.2h0M898.7 292.9h0M899.9 293.2h0M902.0 292.9h0M903.8 293.3h0M905.9 292.8h0M909.5 292.7h0M910.9 293.2h0M912.5 292.5h0M915.1 292.9h0M917.4 292.6h0M918.6 292.9h0M889.3 294.8h0M891.1 295.4h0M892.8 294.8h0M895.8 295.1h0M897.2 295.0h0M899.6 295.2h0M900.8 294.6h0M903.2 295.5h0M905.8 295.0h0M907.2 294.9h0M909.6 294.9h0M911.8 294.9h0M914.0 294.9h0M916.5 294.6h0M918.1 294.6h0M886.2 297.4h0M888.3 296.9h0M891.1 297.1h0M893.7 296.7h0M895.1 297.4h0M896.5 297.4h0M899.9 297.5h0M900.7 296.8h0M903.3 296.5h0M905.0 297.4h0M907.4 296.8h0M909.8 297.5h0M912.0 297.0h0M914.3 297.2h0M916.4 297.1h0M918.8 297.1h0M919.7 296.8h0M882.6 299.4h0M884.2 299.2h0M886.3 298.5h0M889.4 298.9h0M890.3 298.5h0M893.4 298.7h0M895.2 299.3h0M897.8 298.9h0M898.6 298.7h0M901.0 299.2h0M903.0 299.2h0M905.5 298.9h0M907.6 299.1h0M909.3 298.5h0M911.2 298.8h0M914.7 299.0h0M916.2 298.7h0M918.1 299.3h0M920.5 299.0h0M922.9 299.1h0M924.3 299.3h0M885.1 301.4h0M888.4 300.9h0M889.8 301.3h0M891.9 301.3h0M893.5 300.9h0M895.5 301.1h0M898.7 300.7h0M899.7 301.4h0M902.1 301.2h0M903.9 300.6h0M906.3 300.8h0M909.1 301.0h0M910.9 301.1h0M912.7 301.2h0M915.8 300.9h0M917.0 301.3h0M919.8 300.6h0M921.1 300.7h0M890.3 302.7h0M893.2 302.9h0M895.4 303.3h0M897.6 303.2h0M899.4 302.7h0M901.5 302.9h0M904.2 302.8h0M905.3 303.2h0M907.3 303.4h0M910.0 302.9h0M912.6 302.8h0M914.5 303.3h0M916.1 303.1h0M886.1 304.5h0M889.0 305.1h0M890.2 305.3h0M893.2 304.8h0M894.9 304.8h0M897.6 304.5h0M899.0 305.1h0M901.5 305.4h0M903.0 304.7h0M906.1 304.9h0M908.2 305.4h0M909.7 305.2h0M912.6 304.6h0M913.9 305.2h0M916.1 304.8h0M918.6 304.8h0M920.8 304.6h0M888.0 307.3h0M890.1 307.1h0M891.7 306.9h0M894.2 307.1h0M896.5 307.3h0M898.4 307.2h0M901.0 306.7h0M902.9 306.9h0M904.2 307.0h0M907.3 307.2h0M909.3 307.2h0M910.5 307.1h0M912.5 306.8h0M914.3 307.0h0M916.6 306.8h0M919.1 307.4h0M892.0 309.2h0M894.5 309.4h0M895.7 308.6h0M898.0 309.0h0M900.2 309.5h0M902.8 308.5h0M904.2 308.7h0M906.2 309.4h0M909.2 309.2h0M910.2 308.6h0M913.1 309.4h0M914.4 308.7h0M898.0 310.7h0M900.4 310.8h0M902.9 310.9h0M904.4 311.3h0M906.7 310.7h0M909.1 310.6h0M896.8 313.4h0M898.4 312.8h0M899.8 313.5h0M901.8 312.5h0M904.7 313.2h0M906.5 312.5h0M909.1 313.3h0M911.5 313.3h0M894.6 314.7h0M896.7 314.6h0M899.6 314.9h0M901.1 314.7h0M904.1 315.3h0M906.2 314.6h0M907.4 315.0h0M909.4 315.4h0M912.5 314.7h0M897.8 317.4h0M900.2 316.9h0M902.6 317.4h0M904.8 316.5h0M907.3 316.7h0M908.2 317.1h0M890.0 319.4h0M892.6 319.4h0M893.9 318.6h0M896.8 318.5h0M898.2 318.8h0M900.5 319.0h0M902.6 318.9h0M904.7 318.6h0M907.2 319.2h0M909.4 318.7h0M911.3 318.6h0M913.6 319.4h0M915.2 318.8h0M917.4 318.6h0M887.8 320.6h0M889.1 321.3h0M891.5 320.7h0M894.6 321.5h0M895.8 321.5h0M898.3 320.6h0M900.1 320.8h0M901.8 321.4h0M904.0 320.9h0M906.5 321.1h0M908.5 321.1h0M910.9 320.7h0M912.9 321.2h0M914.9 321.1h0M917.6 321.1h0M919.2 321.1h0M892.4 322.8h0M895.7 322.8h0M896.7 322.8h0M899.1 322.8h0M901.1 322.9h0M902.9 323.2h0M906.3 323.2h0M907.9 323.1h0M909.3 323.3h0M911.7 323.0h0M914.3 322.9h0M890.0 325.4h0M891.9 325.4h0M893.8 325.0h0M896.5 325.4h0M898.4 324.6h0M900.6 325.2h0M901.7 325.4h0M905.1 324.6h0M907.2 325.4h0M908.8 325.2h0M910.9 324.6h0M912.3 325.3h0M914.7 325.2h0M916.9 325.4h0M894.4 326.7h0M895.9 327.5h0M898.6 327.4h0M899.7 326.6h0M902.0 327.1h0M903.8 326.6h0M906.0 326.6h0M908.9 326.7h0M910.9 327.2h0M912.5 326.6h0M890.5 329.4h0M892.0 329.3h0M894.5 328.9h0M895.8 328.8h0M898.6 328.5h0M899.9 329.4h0M902.7 329.1h0M904.0 328.8h0M906.4 328.7h0M908.3 329.2h0M910.5 328.5h0M912.6 328.8h0M915.5 329.4h0M916.9 328.7h0M892.5 331.2h0M893.4 330.7h0M896.3 331.3h0M897.5 331.4h0M900.4 331.1h0M902.1 330.7h0M903.9 330.7h0M906.4 330.9h0M909.1 330.9h0M911.3 330.7h0M912.3 330.8h0M914.4 330.7h0M897.8 333.1h0M900.0 332.9h0M902.1 333.1h0M904.9 332.5h0M906.5 332.6h0M909.1 333.5h0M896.8 335.2h0M898.8 334.7h0M900.7 335.4h0M903.6 334.6h0M905.1 335.4h0M908.0 335.4h0M909.2 334.7h0M898.4 337.3h0M900.4 336.8h0M901.9 336.9h0M904.8 337.0h0M906.1 337.3h0M909.1 336.9h0M899.8 338.8h0M901.5 339.0h0M903.3 338.6h0M905.5 338.9h0M907.5 339.0h0M900.7 341.5h0M902.5 340.9h0M904.8 340.8h0M906.1 340.8h0M901.6 343.2h0M903.6 343.5h0M905.2 343.2h0M900.1 345.5h0M903.0 344.6h0M905.2 344.6h0M907.3 344.6h0M902.3 347.0h0M905.0 346.7h0M899.2 348.5h0M901.0 349.0h0M903.4 348.5h0M905.3 348.6h0M907.3 349.2h0M903.7 351.3h0M901.9 353.4h0M904.0 352.8h0M906.1 353.4h0M902.8 355.3h0M881.1 269.5h0M882.7 270.2h0M883.9 270.1h0M886.4 270.0h0M888.0 269.9h0M890.3 269.6h0M891.9 269.5h0M894.9 269.9h0M896.5 269.7h0M898.8 269.6h0M900.8 269.6h0M901.9 269.5h0M904.4 269.8h0M905.9 269.8h0M908.7 269.9h0M909.9 270.1h0M912.1 269.8h0M913.9 270.0h0M917.1 269.6h0M918.6 269.7h0M919.8 270.1h0M922.6 269.9h0M924.5 269.7h0M926.6 269.4h0M881.9 287.3h0M883.8 287.8h0M885.6 287.4h0M888.1 287.4h0M889.4 287.9h0M892.0 288.0h0M893.3 287.9h0M895.3 287.4h0M896.9 287.3h0M899.2 287.6h0M901.1 287.8h0M903.1 287.3h0M906.1 288.0h0M907.0 287.9h0M909.5 287.9h0M912.1 287.6h0M912.9 287.8h0M915.1 287.3h0M918.2 287.4h0M919.3 287.6h0M921.3 287.5h0M923.7 287.5h0M925.5 287.9h0M883.1 299.0h0M886.0 299.3h0M887.3 299.1h0M889.1 299.6h0M892.0 299.6h0M892.9 299.3h0M894.9 299.3h0M897.1 299.1h0M900.2 298.9h0M901.4 299.4h0M903.0 299.0h0M905.4 299.5h0M906.9 299.6h0M909.7 299.1h0M911.6 299.3h0M913.7 298.9h0M915.2 299.6h0M917.4 299.5h0M919.3 299.0h0M920.8 299.1h0M923.0 299.5h0" stroke="#0000ff" stroke-width="2.9" stroke-linecap="round" fill="none"/>
<g stroke="#000" stroke-width="2.9" fill="none" stroke-linecap="butt">
<path d="M93.3 7.9 H966.4 V400.9 H93.3 Z"/>
<path d="M87.5 400.80 H93.3"/>
<path d="M87.5 335.90 H93.3"/>
<path d="M87.5 270.50 H93.3"/>
<path d="M87.5 203.80 H93.3"/>
<path d="M87.5 139.00 H93.3"/>
<path d="M87.5 72.85 H93.3"/>
</g>
<g  font-size="25.2" fill="#000" text-anchor="end">
<text x="87.2" y="409.10">0</text>
<text x="87.2" y="344.20">500</text>
<text x="87.2" y="280.30">1000</text>
<text x="87.2" y="213.20">1500</text>
<text x="87.2" y="148.20">2000</text>
<text x="87.2" y="80.80">2500</text>
<text x="87.2" y="17.70">3000</text>
</g>
<text  font-size="25.2" fill="#000" text-anchor="middle" transform="translate(18.1,209.8) rotate(-90)">Consensus read length</text>
<g  font-size="25.2" fill="#000" text-anchor="middle">
<text x="216.8" y="428.9">PB19</text>
<text x="407.4" y="428.7">PB3</text>
<text x="405.4" y="459.6">R1</text>
<text x="529.2" y="429.8">PB3</text>
<text x="528.5" y="460.7">R2</text>
<text x="657.4" y="427.4">PB19</text>
<text x="655.9" y="458.1">R1</text>
<text x="778.5" y="427.7">PB19</text>
<text x="778.75" y="458.5">R2</text>
<text x="905.5" y="429.7">PB21</text>
</g>
<path d="M93.9 468.7 H345.6" stroke="#000" stroke-width="3"/>
<path d="M352.4 468.7 H965.4" stroke="#0000ff" stroke-width="3"/>
<text  font-size="25.2" fill="#000" text-anchor="middle" x="219.9" y="492.3">Undepleted</text>
<text  font-size="25.2" fill="#0000ff" text-anchor="middle" x="654.9" y="492.3">Depleted</text>
<g  font-size="36.5" fill="#ff0000" stroke="#ff0000" stroke-width="0.2">
<text transform="translate(389.85,36.7) scale(1.0494,1)">Hb content</text>
<text transform="translate(172.63,70.8) scale(1.0109,1)">79.3%</text>
<text transform="translate(363.54,70.8) scale(1.0093,1)">0.9%</text>
<text transform="translate(487.64,70.8) scale(1.0032,1)">1.2%</text>
<text transform="translate(612.13,70.8) scale(1.0069,1)">1.9%</text>
<text transform="translate(737.8,70.8) scale(1.0012,1)">8.3%</text>
<text transform="translate(863.25,70.8) scale(1.0031,1)">0.6%</text>
</g>
<path d="M529.6 21.4h0M529.6 45.5h0M529.6 63.0h0M778.9 49.1h0M778.6 62.7h0M781.1 62.7h0" stroke="#0000ff" stroke-width="2.2" stroke-linecap="round" fill="none"/>
</svg></body></html>
